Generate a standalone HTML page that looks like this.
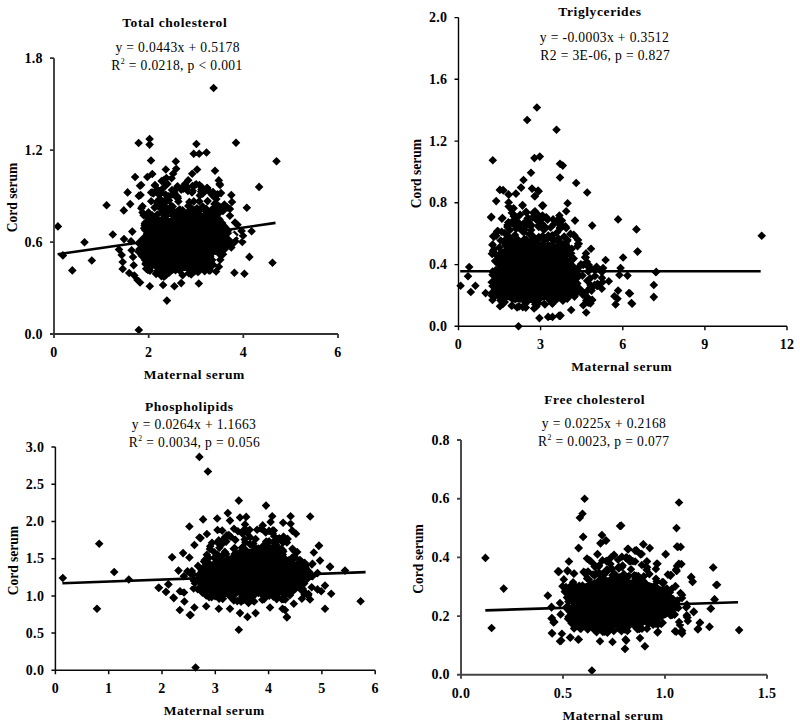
<!DOCTYPE html>
<html><head><meta charset="utf-8"><style>
html,body{margin:0;padding:0;background:#fff;width:800px;height:727px;overflow:hidden}
svg{display:block}
text{font-family:"Liberation Serif", serif;fill:#000}
.tk{font-weight:bold;font-size:14px;letter-spacing:0.3px}
.ti{font-weight:bold;font-size:13.5px;letter-spacing:0.6px}
.eq{font-size:14px;letter-spacing:0.38px}
.yl{font-weight:bold;font-size:13.5px}
.xl{font-weight:bold;font-size:13.5px;letter-spacing:0.55px}
</style></head><body>
<svg width="800" height="727" viewBox="0 0 800 727">
<g id="c1"><polygon points="149.0,220.6 149.0,227.2 145.4,240.2 142.2,246.8 143.0,256.1 143.6,261.2 146.7,264.8 154.8,268.9 161.5,271.8 169.6,271.0 188.7,271.0 198.0,268.2 208.0,266.5 211.0,263.9 211.0,260.6 216.8,250.5 224.1,243.2 230.0,238.7 230.6,236.6 228.6,231.7 220.2,225.4 217.3,215.5 214.2,213.3 209.3,212.1 201.3,212.9 191.3,214.9 181.3,215.9 170.4,218.1 160.4,217.1 152.9,218.6" fill="#000"/><path d="M228.9 235.2l4.3 4.3l-4.3 4.3l-4.3-4.3zM145.9 223.7l4.3 4.3l-4.3 4.3l-4.3-4.3zM145.5 259.7l4.3 4.3l-4.3 4.3l-4.3-4.3zM205.8 205.1l4.3 4.3l-4.3 4.3l-4.3-4.3zM189.3 206.4l4.3 4.3l-4.3 4.3l-4.3-4.3zM227.5 235.6l4.3 4.3l-4.3 4.3l-4.3-4.3zM234.5 230.4l4.3 4.3l-4.3 4.3l-4.3-4.3zM143.8 246.9l4.3 4.3l-4.3 4.3l-4.3-4.3zM145.2 225.8l4.3 4.3l-4.3 4.3l-4.3-4.3zM148.3 219.7l4.3 4.3l-4.3 4.3l-4.3-4.3zM216.1 214.8l4.3 4.3l-4.3 4.3l-4.3-4.3zM148.1 232.1l4.3 4.3l-4.3 4.3l-4.3-4.3zM166.9 265.0l4.3 4.3l-4.3 4.3l-4.3-4.3zM221.9 247.8l4.3 4.3l-4.3 4.3l-4.3-4.3zM145.5 243.6l4.3 4.3l-4.3 4.3l-4.3-4.3zM232.3 236.5l4.3 4.3l-4.3 4.3l-4.3-4.3zM193.9 263.7l4.3 4.3l-4.3 4.3l-4.3-4.3zM154.7 213.1l4.3 4.3l-4.3 4.3l-4.3-4.3zM161.4 215.6l4.3 4.3l-4.3 4.3l-4.3-4.3zM156.1 269.7l4.3 4.3l-4.3 4.3l-4.3-4.3zM224.7 245.0l4.3 4.3l-4.3 4.3l-4.3-4.3zM178.6 209.5l4.3 4.3l-4.3 4.3l-4.3-4.3zM192.4 262.7l4.3 4.3l-4.3 4.3l-4.3-4.3zM181.0 206.4l4.3 4.3l-4.3 4.3l-4.3-4.3zM193.7 211.5l4.3 4.3l-4.3 4.3l-4.3-4.3zM172.7 265.5l4.3 4.3l-4.3 4.3l-4.3-4.3zM138.6 247.4l4.3 4.3l-4.3 4.3l-4.3-4.3zM144.0 241.0l4.3 4.3l-4.3 4.3l-4.3-4.3zM210.1 266.1l4.3 4.3l-4.3 4.3l-4.3-4.3zM210.2 252.2l4.3 4.3l-4.3 4.3l-4.3-4.3zM222.8 242.9l4.3 4.3l-4.3 4.3l-4.3-4.3zM144.5 247.6l4.3 4.3l-4.3 4.3l-4.3-4.3zM144.8 255.5l4.3 4.3l-4.3 4.3l-4.3-4.3zM139.4 244.9l4.3 4.3l-4.3 4.3l-4.3-4.3zM197.9 267.6l4.3 4.3l-4.3 4.3l-4.3-4.3zM156.7 214.2l4.3 4.3l-4.3 4.3l-4.3-4.3zM180.6 265.5l4.3 4.3l-4.3 4.3l-4.3-4.3zM164.1 214.2l4.3 4.3l-4.3 4.3l-4.3-4.3zM234.6 234.3l4.3 4.3l-4.3 4.3l-4.3-4.3zM219.4 219.0l4.3 4.3l-4.3 4.3l-4.3-4.3zM184.0 214.8l4.3 4.3l-4.3 4.3l-4.3-4.3zM149.5 234.4l4.3 4.3l-4.3 4.3l-4.3-4.3zM199.0 266.8l4.3 4.3l-4.3 4.3l-4.3-4.3zM230.9 235.1l4.3 4.3l-4.3 4.3l-4.3-4.3zM208.6 260.3l4.3 4.3l-4.3 4.3l-4.3-4.3zM157.8 266.1l4.3 4.3l-4.3 4.3l-4.3-4.3zM168.5 266.8l4.3 4.3l-4.3 4.3l-4.3-4.3zM144.7 233.5l4.3 4.3l-4.3 4.3l-4.3-4.3zM217.4 206.7l4.3 4.3l-4.3 4.3l-4.3-4.3zM216.4 214.4l4.3 4.3l-4.3 4.3l-4.3-4.3zM150.5 212.7l4.3 4.3l-4.3 4.3l-4.3-4.3zM231.0 237.2l4.3 4.3l-4.3 4.3l-4.3-4.3zM220.8 241.9l4.3 4.3l-4.3 4.3l-4.3-4.3zM157.3 262.6l4.3 4.3l-4.3 4.3l-4.3-4.3zM197.0 204.1l4.3 4.3l-4.3 4.3l-4.3-4.3zM233.4 238.8l4.3 4.3l-4.3 4.3l-4.3-4.3zM205.5 206.8l4.3 4.3l-4.3 4.3l-4.3-4.3zM149.2 233.0l4.3 4.3l-4.3 4.3l-4.3-4.3zM214.4 203.8l4.3 4.3l-4.3 4.3l-4.3-4.3zM161.5 216.2l4.3 4.3l-4.3 4.3l-4.3-4.3zM189.4 213.5l4.3 4.3l-4.3 4.3l-4.3-4.3zM221.6 245.6l4.3 4.3l-4.3 4.3l-4.3-4.3zM222.1 218.7l4.3 4.3l-4.3 4.3l-4.3-4.3zM210.5 259.8l4.3 4.3l-4.3 4.3l-4.3-4.3zM226.7 224.6l4.3 4.3l-4.3 4.3l-4.3-4.3zM168.0 267.7l4.3 4.3l-4.3 4.3l-4.3-4.3zM162.4 209.0l4.3 4.3l-4.3 4.3l-4.3-4.3zM215.4 211.1l4.3 4.3l-4.3 4.3l-4.3-4.3zM204.7 266.9l4.3 4.3l-4.3 4.3l-4.3-4.3zM193.3 212.6l4.3 4.3l-4.3 4.3l-4.3-4.3zM154.9 216.6l4.3 4.3l-4.3 4.3l-4.3-4.3zM206.5 262.2l4.3 4.3l-4.3 4.3l-4.3-4.3zM156.0 213.9l4.3 4.3l-4.3 4.3l-4.3-4.3zM206.9 263.3l4.3 4.3l-4.3 4.3l-4.3-4.3zM162.3 266.9l4.3 4.3l-4.3 4.3l-4.3-4.3zM210.9 257.4l4.3 4.3l-4.3 4.3l-4.3-4.3zM208.7 207.2l4.3 4.3l-4.3 4.3l-4.3-4.3zM159.7 269.3l4.3 4.3l-4.3 4.3l-4.3-4.3zM174.0 209.1l4.3 4.3l-4.3 4.3l-4.3-4.3zM161.5 266.5l4.3 4.3l-4.3 4.3l-4.3-4.3zM217.4 207.6l4.3 4.3l-4.3 4.3l-4.3-4.3zM197.6 206.3l4.3 4.3l-4.3 4.3l-4.3-4.3zM231.0 232.0l4.3 4.3l-4.3 4.3l-4.3-4.3zM175.5 265.9l4.3 4.3l-4.3 4.3l-4.3-4.3zM211.3 205.7l4.3 4.3l-4.3 4.3l-4.3-4.3zM188.8 268.8l4.3 4.3l-4.3 4.3l-4.3-4.3zM196.8 210.3l4.3 4.3l-4.3 4.3l-4.3-4.3zM189.3 211.0l4.3 4.3l-4.3 4.3l-4.3-4.3zM147.9 265.6l4.3 4.3l-4.3 4.3l-4.3-4.3zM214.9 246.6l4.3 4.3l-4.3 4.3l-4.3-4.3zM161.4 271.8l4.3 4.3l-4.3 4.3l-4.3-4.3zM198.8 209.4l4.3 4.3l-4.3 4.3l-4.3-4.3zM190.6 207.3l4.3 4.3l-4.3 4.3l-4.3-4.3zM145.1 250.2l4.3 4.3l-4.3 4.3l-4.3-4.3zM210.9 261.8l4.3 4.3l-4.3 4.3l-4.3-4.3zM217.4 246.5l4.3 4.3l-4.3 4.3l-4.3-4.3zM146.2 264.4l4.3 4.3l-4.3 4.3l-4.3-4.3zM214.0 207.6l4.3 4.3l-4.3 4.3l-4.3-4.3zM144.6 223.7l4.3 4.3l-4.3 4.3l-4.3-4.3zM164.7 212.3l4.3 4.3l-4.3 4.3l-4.3-4.3zM173.1 210.5l4.3 4.3l-4.3 4.3l-4.3-4.3zM227.8 233.3l4.3 4.3l-4.3 4.3l-4.3-4.3zM220.1 242.1l4.3 4.3l-4.3 4.3l-4.3-4.3zM224.5 222.1l4.3 4.3l-4.3 4.3l-4.3-4.3zM138.7 238.8l4.3 4.3l-4.3 4.3l-4.3-4.3zM216.9 206.7l4.3 4.3l-4.3 4.3l-4.3-4.3zM210.1 266.1l4.3 4.3l-4.3 4.3l-4.3-4.3zM144.9 247.2l4.3 4.3l-4.3 4.3l-4.3-4.3zM227.9 231.3l4.3 4.3l-4.3 4.3l-4.3-4.3zM219.1 249.5l4.3 4.3l-4.3 4.3l-4.3-4.3zM178.5 212.5l4.3 4.3l-4.3 4.3l-4.3-4.3zM174.0 214.1l4.3 4.3l-4.3 4.3l-4.3-4.3zM165.7 271.1l4.3 4.3l-4.3 4.3l-4.3-4.3zM142.7 234.8l4.3 4.3l-4.3 4.3l-4.3-4.3zM194.9 266.8l4.3 4.3l-4.3 4.3l-4.3-4.3zM162.5 265.2l4.3 4.3l-4.3 4.3l-4.3-4.3zM227.9 226.5l4.3 4.3l-4.3 4.3l-4.3-4.3zM191.2 270.2l4.3 4.3l-4.3 4.3l-4.3-4.3zM163.9 272.5l4.3 4.3l-4.3 4.3l-4.3-4.3zM152.2 213.3l4.3 4.3l-4.3 4.3l-4.3-4.3zM223.4 238.8l4.3 4.3l-4.3 4.3l-4.3-4.3zM144.7 221.3l4.3 4.3l-4.3 4.3l-4.3-4.3zM208.1 209.0l4.3 4.3l-4.3 4.3l-4.3-4.3zM222.2 223.7l4.3 4.3l-4.3 4.3l-4.3-4.3zM219.1 217.0l4.3 4.3l-4.3 4.3l-4.3-4.3zM152.2 261.3l4.3 4.3l-4.3 4.3l-4.3-4.3zM144.1 223.9l4.3 4.3l-4.3 4.3l-4.3-4.3zM147.0 230.2l4.3 4.3l-4.3 4.3l-4.3-4.3zM182.6 270.9l4.3 4.3l-4.3 4.3l-4.3-4.3zM219.4 248.6l4.3 4.3l-4.3 4.3l-4.3-4.3zM216.4 216.8l4.3 4.3l-4.3 4.3l-4.3-4.3zM162.1 216.4l4.3 4.3l-4.3 4.3l-4.3-4.3zM219.1 208.7l4.3 4.3l-4.3 4.3l-4.3-4.3zM220.1 244.3l4.3 4.3l-4.3 4.3l-4.3-4.3zM145.5 218.2l4.3 4.3l-4.3 4.3l-4.3-4.3zM152.2 211.0l4.3 4.3l-4.3 4.3l-4.3-4.3zM177.1 207.3l4.3 4.3l-4.3 4.3l-4.3-4.3zM228.5 232.5l4.3 4.3l-4.3 4.3l-4.3-4.3zM213.1 260.5l4.3 4.3l-4.3 4.3l-4.3-4.3zM147.1 229.0l4.3 4.3l-4.3 4.3l-4.3-4.3zM219.0 245.6l4.3 4.3l-4.3 4.3l-4.3-4.3zM226.7 241.1l4.3 4.3l-4.3 4.3l-4.3-4.3zM208.0 261.5l4.3 4.3l-4.3 4.3l-4.3-4.3zM156.2 269.3l4.3 4.3l-4.3 4.3l-4.3-4.3zM144.8 219.5l4.3 4.3l-4.3 4.3l-4.3-4.3zM169.4 268.2l4.3 4.3l-4.3 4.3l-4.3-4.3zM150.0 266.4l4.3 4.3l-4.3 4.3l-4.3-4.3zM218.2 244.9l4.3 4.3l-4.3 4.3l-4.3-4.3zM148.7 260.8l4.3 4.3l-4.3 4.3l-4.3-4.3zM165.3 265.9l4.3 4.3l-4.3 4.3l-4.3-4.3zM219.5 215.3l4.3 4.3l-4.3 4.3l-4.3-4.3zM191.2 207.6l4.3 4.3l-4.3 4.3l-4.3-4.3zM150.8 229.6l4.3 4.3l-4.3 4.3l-4.3-4.3zM200.6 204.8l4.3 4.3l-4.3 4.3l-4.3-4.3zM212.2 255.6l4.3 4.3l-4.3 4.3l-4.3-4.3zM193.0 266.5l4.3 4.3l-4.3 4.3l-4.3-4.3zM179.7 266.4l4.3 4.3l-4.3 4.3l-4.3-4.3zM209.0 266.1l4.3 4.3l-4.3 4.3l-4.3-4.3zM195.8 207.1l4.3 4.3l-4.3 4.3l-4.3-4.3zM148.9 233.9l4.3 4.3l-4.3 4.3l-4.3-4.3zM141.7 251.5l4.3 4.3l-4.3 4.3l-4.3-4.3zM203.0 263.7l4.3 4.3l-4.3 4.3l-4.3-4.3zM193.1 266.4l4.3 4.3l-4.3 4.3l-4.3-4.3zM146.3 258.5l4.3 4.3l-4.3 4.3l-4.3-4.3zM195.0 205.4l4.3 4.3l-4.3 4.3l-4.3-4.3zM143.6 210.9l4.3 4.3l-4.3 4.3l-4.3-4.3zM167.2 196.1l4.3 4.3l-4.3 4.3l-4.3-4.3zM181.2 185.3l4.3 4.3l-4.3 4.3l-4.3-4.3zM166.1 211.8l4.3 4.3l-4.3 4.3l-4.3-4.3zM212.2 190.8l4.3 4.3l-4.3 4.3l-4.3-4.3zM181.2 184.1l4.3 4.3l-4.3 4.3l-4.3-4.3zM158.2 201.1l4.3 4.3l-4.3 4.3l-4.3-4.3zM157.3 210.3l4.3 4.3l-4.3 4.3l-4.3-4.3zM202.7 189.3l4.3 4.3l-4.3 4.3l-4.3-4.3zM217.5 209.9l4.3 4.3l-4.3 4.3l-4.3-4.3zM201.6 182.7l4.3 4.3l-4.3 4.3l-4.3-4.3zM160.0 189.1l4.3 4.3l-4.3 4.3l-4.3-4.3zM201.4 185.0l4.3 4.3l-4.3 4.3l-4.3-4.3zM156.4 186.4l4.3 4.3l-4.3 4.3l-4.3-4.3zM197.5 206.9l4.3 4.3l-4.3 4.3l-4.3-4.3zM172.7 202.2l4.3 4.3l-4.3 4.3l-4.3-4.3zM216.2 199.5l4.3 4.3l-4.3 4.3l-4.3-4.3zM160.5 188.8l4.3 4.3l-4.3 4.3l-4.3-4.3zM219.8 202.4l4.3 4.3l-4.3 4.3l-4.3-4.3zM164.5 201.4l4.3 4.3l-4.3 4.3l-4.3-4.3zM148.6 214.1l4.3 4.3l-4.3 4.3l-4.3-4.3zM178.4 197.2l4.3 4.3l-4.3 4.3l-4.3-4.3zM192.0 188.2l4.3 4.3l-4.3 4.3l-4.3-4.3zM162.3 207.4l4.3 4.3l-4.3 4.3l-4.3-4.3zM205.2 186.8l4.3 4.3l-4.3 4.3l-4.3-4.3zM164.7 198.0l4.3 4.3l-4.3 4.3l-4.3-4.3zM156.8 210.9l4.3 4.3l-4.3 4.3l-4.3-4.3zM180.2 205.5l4.3 4.3l-4.3 4.3l-4.3-4.3zM173.7 212.1l4.3 4.3l-4.3 4.3l-4.3-4.3zM183.5 184.4l4.3 4.3l-4.3 4.3l-4.3-4.3zM188.3 201.6l4.3 4.3l-4.3 4.3l-4.3-4.3zM171.6 202.1l4.3 4.3l-4.3 4.3l-4.3-4.3zM207.6 196.8l4.3 4.3l-4.3 4.3l-4.3-4.3zM184.0 209.0l4.3 4.3l-4.3 4.3l-4.3-4.3zM199.2 197.0l4.3 4.3l-4.3 4.3l-4.3-4.3zM207.3 183.8l4.3 4.3l-4.3 4.3l-4.3-4.3zM192.7 186.4l4.3 4.3l-4.3 4.3l-4.3-4.3zM178.4 206.3l4.3 4.3l-4.3 4.3l-4.3-4.3zM207.9 207.0l4.3 4.3l-4.3 4.3l-4.3-4.3zM161.1 195.8l4.3 4.3l-4.3 4.3l-4.3-4.3zM159.8 199.2l4.3 4.3l-4.3 4.3l-4.3-4.3zM191.7 204.1l4.3 4.3l-4.3 4.3l-4.3-4.3zM189.7 210.0l4.3 4.3l-4.3 4.3l-4.3-4.3zM177.9 194.0l4.3 4.3l-4.3 4.3l-4.3-4.3zM163.4 207.2l4.3 4.3l-4.3 4.3l-4.3-4.3zM147.2 211.3l4.3 4.3l-4.3 4.3l-4.3-4.3zM189.4 197.8l4.3 4.3l-4.3 4.3l-4.3-4.3zM208.3 186.5l4.3 4.3l-4.3 4.3l-4.3-4.3zM153.4 189.2l4.3 4.3l-4.3 4.3l-4.3-4.3zM193.8 197.1l4.3 4.3l-4.3 4.3l-4.3-4.3zM163.5 199.5l4.3 4.3l-4.3 4.3l-4.3-4.3zM148.5 208.1l4.3 4.3l-4.3 4.3l-4.3-4.3zM155.6 187.1l4.3 4.3l-4.3 4.3l-4.3-4.3zM154.6 203.3l4.3 4.3l-4.3 4.3l-4.3-4.3zM211.6 206.8l4.3 4.3l-4.3 4.3l-4.3-4.3zM172.0 185.7l4.3 4.3l-4.3 4.3l-4.3-4.3zM182.6 205.9l4.3 4.3l-4.3 4.3l-4.3-4.3zM179.7 205.3l4.3 4.3l-4.3 4.3l-4.3-4.3zM174.4 188.7l4.3 4.3l-4.3 4.3l-4.3-4.3zM205.9 204.9l4.3 4.3l-4.3 4.3l-4.3-4.3zM160.5 187.1l4.3 4.3l-4.3 4.3l-4.3-4.3zM187.9 186.6l4.3 4.3l-4.3 4.3l-4.3-4.3zM180.2 212.2l4.3 4.3l-4.3 4.3l-4.3-4.3zM171.9 190.2l4.3 4.3l-4.3 4.3l-4.3-4.3zM224.4 200.3l4.3 4.3l-4.3 4.3l-4.3-4.3zM196.2 179.9l4.3 4.3l-4.3 4.3l-4.3-4.3zM170.2 203.4l4.3 4.3l-4.3 4.3l-4.3-4.3zM214.5 199.6l4.3 4.3l-4.3 4.3l-4.3-4.3zM216.3 194.8l4.3 4.3l-4.3 4.3l-4.3-4.3zM174.4 208.9l4.3 4.3l-4.3 4.3l-4.3-4.3zM173.4 206.6l4.3 4.3l-4.3 4.3l-4.3-4.3zM159.3 190.6l4.3 4.3l-4.3 4.3l-4.3-4.3zM156.6 198.0l4.3 4.3l-4.3 4.3l-4.3-4.3zM159.2 195.0l4.3 4.3l-4.3 4.3l-4.3-4.3zM167.2 194.2l4.3 4.3l-4.3 4.3l-4.3-4.3zM199.8 191.1l4.3 4.3l-4.3 4.3l-4.3-4.3zM156.5 187.4l4.3 4.3l-4.3 4.3l-4.3-4.3zM174.4 211.9l4.3 4.3l-4.3 4.3l-4.3-4.3zM201.8 187.6l4.3 4.3l-4.3 4.3l-4.3-4.3zM206.1 204.5l4.3 4.3l-4.3 4.3l-4.3-4.3zM168.4 191.9l4.3 4.3l-4.3 4.3l-4.3-4.3zM148.1 210.3l4.3 4.3l-4.3 4.3l-4.3-4.3zM168.6 206.2l4.3 4.3l-4.3 4.3l-4.3-4.3zM174.5 186.5l4.3 4.3l-4.3 4.3l-4.3-4.3zM167.5 193.4l4.3 4.3l-4.3 4.3l-4.3-4.3zM187.2 182.7l4.3 4.3l-4.3 4.3l-4.3-4.3zM201.1 187.3l4.3 4.3l-4.3 4.3l-4.3-4.3zM202.7 202.3l4.3 4.3l-4.3 4.3l-4.3-4.3zM164.8 204.1l4.3 4.3l-4.3 4.3l-4.3-4.3zM175.5 192.0l4.3 4.3l-4.3 4.3l-4.3-4.3zM165.8 190.5l4.3 4.3l-4.3 4.3l-4.3-4.3zM189.1 207.6l4.3 4.3l-4.3 4.3l-4.3-4.3zM159.4 203.2l4.3 4.3l-4.3 4.3l-4.3-4.3zM194.8 181.0l4.3 4.3l-4.3 4.3l-4.3-4.3zM177.4 192.2l4.3 4.3l-4.3 4.3l-4.3-4.3zM168.9 196.1l4.3 4.3l-4.3 4.3l-4.3-4.3z" fill="#000"/><path d="M233.0 232.2l3.8 3.8l-3.8 3.8l-3.8-3.8z" fill="#fff"/><path d="M213.6 83.7l4.3 4.3l-4.3 4.3l-4.3-4.3zM138.6 138.7l4.3 4.3l-4.3 4.3l-4.3-4.3zM149.6 134.7l4.3 4.3l-4.3 4.3l-4.3-4.3zM149.6 140.3l4.3 4.3l-4.3 4.3l-4.3-4.3zM196.4 139.7l4.3 4.3l-4.3 4.3l-4.3-4.3zM236.0 138.4l4.3 4.3l-4.3 4.3l-4.3-4.3zM276.5 156.9l4.3 4.3l-4.3 4.3l-4.3-4.3zM259.1 182.6l4.3 4.3l-4.3 4.3l-4.3-4.3zM206.5 148.2l4.3 4.3l-4.3 4.3l-4.3-4.3zM193.7 149.4l4.3 4.3l-4.3 4.3l-4.3-4.3zM199.2 149.4l4.3 4.3l-4.3 4.3l-4.3-4.3zM151.0 156.2l4.3 4.3l-4.3 4.3l-4.3-4.3zM175.8 157.2l4.3 4.3l-4.3 4.3l-4.3-4.3zM165.8 165.2l4.3 4.3l-4.3 4.3l-4.3-4.3zM176.2 164.5l4.3 4.3l-4.3 4.3l-4.3-4.3zM197.1 165.2l4.3 4.3l-4.3 4.3l-4.3-4.3zM192.2 169.4l4.3 4.3l-4.3 4.3l-4.3-4.3zM215.0 166.5l4.3 4.3l-4.3 4.3l-4.3-4.3zM218.8 176.1l4.3 4.3l-4.3 4.3l-4.3-4.3zM220.0 180.7l4.3 4.3l-4.3 4.3l-4.3-4.3zM188.2 176.0l4.3 4.3l-4.3 4.3l-4.3-4.3zM171.6 174.0l4.3 4.3l-4.3 4.3l-4.3-4.3zM152.3 169.7l4.3 4.3l-4.3 4.3l-4.3-4.3zM147.3 172.7l4.3 4.3l-4.3 4.3l-4.3-4.3zM135.1 172.7l4.3 4.3l-4.3 4.3l-4.3-4.3zM140.0 181.4l4.3 4.3l-4.3 4.3l-4.3-4.3zM127.6 188.1l4.3 4.3l-4.3 4.3l-4.3-4.3zM138.8 191.6l4.3 4.3l-4.3 4.3l-4.3-4.3zM130.2 199.8l4.3 4.3l-4.3 4.3l-4.3-4.3zM123.8 206.1l4.3 4.3l-4.3 4.3l-4.3-4.3zM141.3 203.9l4.3 4.3l-4.3 4.3l-4.3-4.3zM106.6 201.0l4.3 4.3l-4.3 4.3l-4.3-4.3zM112.8 230.2l4.3 4.3l-4.3 4.3l-4.3-4.3zM132.3 227.3l4.3 4.3l-4.3 4.3l-4.3-4.3zM124.0 234.8l4.3 4.3l-4.3 4.3l-4.3-4.3zM119.0 245.2l4.3 4.3l-4.3 4.3l-4.3-4.3zM121.7 250.7l4.3 4.3l-4.3 4.3l-4.3-4.3zM122.7 257.7l4.3 4.3l-4.3 4.3l-4.3-4.3zM122.7 264.6l4.3 4.3l-4.3 4.3l-4.3-4.3zM129.2 268.7l4.3 4.3l-4.3 4.3l-4.3-4.3zM131.0 236.9l4.3 4.3l-4.3 4.3l-4.3-4.3zM131.6 245.9l4.3 4.3l-4.3 4.3l-4.3-4.3zM133.0 252.7l4.3 4.3l-4.3 4.3l-4.3-4.3zM133.7 261.0l4.3 4.3l-4.3 4.3l-4.3-4.3zM57.9 222.1l4.3 4.3l-4.3 4.3l-4.3-4.3zM84.5 237.9l4.3 4.3l-4.3 4.3l-4.3-4.3zM62.9 251.1l4.3 4.3l-4.3 4.3l-4.3-4.3zM91.8 256.2l4.3 4.3l-4.3 4.3l-4.3-4.3zM72.3 266.1l4.3 4.3l-4.3 4.3l-4.3-4.3zM138.8 325.7l4.3 4.3l-4.3 4.3l-4.3-4.3zM166.9 296.3l4.3 4.3l-4.3 4.3l-4.3-4.3zM149.8 281.9l4.3 4.3l-4.3 4.3l-4.3-4.3zM163.1 280.7l4.3 4.3l-4.3 4.3l-4.3-4.3zM174.4 281.9l4.3 4.3l-4.3 4.3l-4.3-4.3zM198.8 279.2l4.3 4.3l-4.3 4.3l-4.3-4.3zM140.0 278.2l4.3 4.3l-4.3 4.3l-4.3-4.3zM181.2 278.8l4.3 4.3l-4.3 4.3l-4.3-4.3zM134.4 271.3l4.3 4.3l-4.3 4.3l-4.3-4.3zM137.5 275.7l4.3 4.3l-4.3 4.3l-4.3-4.3zM249.4 252.6l4.3 4.3l-4.3 4.3l-4.3-4.3zM272.5 258.4l4.3 4.3l-4.3 4.3l-4.3-4.3zM234.4 268.4l4.3 4.3l-4.3 4.3l-4.3-4.3zM244.4 269.4l4.3 4.3l-4.3 4.3l-4.3-4.3zM246.8 203.5l4.3 4.3l-4.3 4.3l-4.3-4.3zM251.6 226.9l4.3 4.3l-4.3 4.3l-4.3-4.3zM219.6 179.8l4.3 4.3l-4.3 4.3l-4.3-4.3zM221.0 188.8l4.3 4.3l-4.3 4.3l-4.3-4.3zM231.3 190.8l4.3 4.3l-4.3 4.3l-4.3-4.3zM232.0 197.7l4.3 4.3l-4.3 4.3l-4.3-4.3zM229.9 204.6l4.3 4.3l-4.3 4.3l-4.3-4.3zM223.0 206.7l4.3 4.3l-4.3 4.3l-4.3-4.3zM229.9 211.5l4.3 4.3l-4.3 4.3l-4.3-4.3zM237.5 220.4l4.3 4.3l-4.3 4.3l-4.3-4.3zM241.6 226.6l4.3 4.3l-4.3 4.3l-4.3-4.3zM243.0 231.4l4.3 4.3l-4.3 4.3l-4.3-4.3zM242.3 237.6l4.3 4.3l-4.3 4.3l-4.3-4.3zM235.4 236.9l4.3 4.3l-4.3 4.3l-4.3-4.3zM231.3 243.1l4.3 4.3l-4.3 4.3l-4.3-4.3zM223.0 250.0l4.3 4.3l-4.3 4.3l-4.3-4.3zM220.3 255.5l4.3 4.3l-4.3 4.3l-4.3-4.3zM218.9 262.4l4.3 4.3l-4.3 4.3l-4.3-4.3zM216.1 267.2l4.3 4.3l-4.3 4.3l-4.3-4.3zM227.5 203.2l4.3 4.3l-4.3 4.3l-4.3-4.3zM235.0 218.2l4.3 4.3l-4.3 4.3l-4.3-4.3zM217.5 190.1l4.3 4.3l-4.3 4.3l-4.3-4.3zM141.2 180.7l4.3 4.3l-4.3 4.3l-4.3-4.3zM155.0 180.7l4.3 4.3l-4.3 4.3l-4.3-4.3zM177.5 181.9l4.3 4.3l-4.3 4.3l-4.3-4.3zM199.4 180.7l4.3 4.3l-4.3 4.3l-4.3-4.3zM140.6 190.7l4.3 4.3l-4.3 4.3l-4.3-4.3zM151.2 188.2l4.3 4.3l-4.3 4.3l-4.3-4.3zM151.2 196.9l4.3 4.3l-4.3 4.3l-4.3-4.3zM142.5 201.9l4.3 4.3l-4.3 4.3l-4.3-4.3zM142.5 208.2l4.3 4.3l-4.3 4.3l-4.3-4.3zM163.8 175.7l4.3 4.3l-4.3 4.3l-4.3-4.3zM173.1 169.4l4.3 4.3l-4.3 4.3l-4.3-4.3zM154.9 181.1l4.3 4.3l-4.3 4.3l-4.3-4.3zM161.6 176.7l4.3 4.3l-4.3 4.3l-4.3-4.3zM166.4 173.8l4.3 4.3l-4.3 4.3l-4.3-4.3zM152.5 188.3l4.3 4.3l-4.3 4.3l-4.3-4.3zM157.8 185.4l4.3 4.3l-4.3 4.3l-4.3-4.3zM163.5 183.5l4.3 4.3l-4.3 4.3l-4.3-4.3zM167.4 179.6l4.3 4.3l-4.3 4.3l-4.3-4.3zM192.5 181.7l4.3 4.3l-4.3 4.3l-4.3-4.3zM185.0 179.7l4.3 4.3l-4.3 4.3l-4.3-4.3zM207.0 183.7l4.3 4.3l-4.3 4.3l-4.3-4.3zM213.0 187.7l4.3 4.3l-4.3 4.3l-4.3-4.3z" fill="#000"/><path d="M54.0 58.2V334.0H338.0" fill="none" stroke="#333" stroke-width="1.8"/><path d="M50.0 334.0H54.0M50.0 242.1H54.0M50.0 150.2H54.0M50.0 58.2H54.0M54.0 334.0v4M148.7 334.0v4M243.3 334.0v4M338.0 334.0v4" fill="none" stroke="#333" stroke-width="1.8"/><text transform="translate(42.8 338.6) scale(1.0 1)" text-anchor="end" class="tk">0.0</text><text transform="translate(42.8 246.7) scale(1.0 1)" text-anchor="end" class="tk">0.6</text><text transform="translate(42.8 154.8) scale(1.0 1)" text-anchor="end" class="tk">1.2</text><text transform="translate(42.8 62.8) scale(1.0 1)" text-anchor="end" class="tk">1.8</text><text transform="translate(54.0 357.0) scale(1.0 1)" text-anchor="middle" class="tk">0</text><text transform="translate(148.7 357.0) scale(1.0 1)" text-anchor="middle" class="tk">2</text><text transform="translate(243.3 357.0) scale(1.0 1)" text-anchor="middle" class="tk">4</text><text transform="translate(338.0 357.0) scale(1.0 1)" text-anchor="middle" class="tk">6</text><line x1="57.6" y1="254.2" x2="275.5" y2="222.9" stroke="#000" stroke-width="2.6"/><text transform="translate(174.7 27.0) scale(1.0 1)" text-anchor="middle" class="ti">Total cholesterol</text><text transform="translate(177.6 51.6) scale(0.97 1)" text-anchor="middle" class="eq">y = 0.0443x + 0.5178</text><text transform="translate(177.0 69.7) scale(0.97 1)" text-anchor="middle" class="eq">R<tspan dy="-5.4" font-size="8">2</tspan><tspan dy="5.4"> = 0.0218, p &lt; 0.001</tspan></text><text transform="translate(16.5 197.5) rotate(-90) scale(1 1.075)" text-anchor="middle" class="yl">Cord serum</text><text transform="translate(194.2 378.6) scale(1.0 1)" text-anchor="middle" class="xl">Maternal serum</text></g>
<g id="c2"><polygon points="498.5,250.8 496.0,275.4 496.0,286.6 494.5,290.7 497.9,294.2 504.2,298.9 513.8,302.1 524.4,303.0 533.7,303.0 543.0,300.2 555.4,298.1 565.6,296.1 570.1,295.5 570.6,294.9 574.4,288.8 575.8,280.4 573.4,270.8 569.5,260.9 566.9,251.7 562.4,247.1 556.6,243.5 549.6,242.1 530.0,244.0 520.4,243.1 512.6,244.7 503.7,248.2" fill="#000"/><path d="M505.2 240.8l4.3 4.3l-4.3 4.3l-4.3-4.3zM571.2 248.9l4.3 4.3l-4.3 4.3l-4.3-4.3zM544.2 299.4l4.3 4.3l-4.3 4.3l-4.3-4.3zM552.1 298.8l4.3 4.3l-4.3 4.3l-4.3-4.3zM554.2 235.6l4.3 4.3l-4.3 4.3l-4.3-4.3zM575.7 288.0l4.3 4.3l-4.3 4.3l-4.3-4.3zM577.9 273.0l4.3 4.3l-4.3 4.3l-4.3-4.3zM512.1 301.2l4.3 4.3l-4.3 4.3l-4.3-4.3zM577.3 279.1l4.3 4.3l-4.3 4.3l-4.3-4.3zM501.3 291.7l4.3 4.3l-4.3 4.3l-4.3-4.3zM492.5 270.5l4.3 4.3l-4.3 4.3l-4.3-4.3zM573.7 254.3l4.3 4.3l-4.3 4.3l-4.3-4.3zM525.6 299.2l4.3 4.3l-4.3 4.3l-4.3-4.3zM577.1 269.1l4.3 4.3l-4.3 4.3l-4.3-4.3zM525.4 239.1l4.3 4.3l-4.3 4.3l-4.3-4.3zM571.8 244.5l4.3 4.3l-4.3 4.3l-4.3-4.3zM552.9 235.9l4.3 4.3l-4.3 4.3l-4.3-4.3zM574.1 265.4l4.3 4.3l-4.3 4.3l-4.3-4.3zM561.3 291.3l4.3 4.3l-4.3 4.3l-4.3-4.3zM544.9 300.2l4.3 4.3l-4.3 4.3l-4.3-4.3zM520.9 240.7l4.3 4.3l-4.3 4.3l-4.3-4.3zM569.0 245.2l4.3 4.3l-4.3 4.3l-4.3-4.3zM513.8 239.2l4.3 4.3l-4.3 4.3l-4.3-4.3zM574.5 292.3l4.3 4.3l-4.3 4.3l-4.3-4.3zM512.9 236.8l4.3 4.3l-4.3 4.3l-4.3-4.3zM493.3 268.1l4.3 4.3l-4.3 4.3l-4.3-4.3zM544.4 235.2l4.3 4.3l-4.3 4.3l-4.3-4.3zM533.5 234.3l4.3 4.3l-4.3 4.3l-4.3-4.3zM567.2 249.0l4.3 4.3l-4.3 4.3l-4.3-4.3zM538.0 242.2l4.3 4.3l-4.3 4.3l-4.3-4.3zM571.5 271.9l4.3 4.3l-4.3 4.3l-4.3-4.3zM513.9 243.6l4.3 4.3l-4.3 4.3l-4.3-4.3zM553.1 291.1l4.3 4.3l-4.3 4.3l-4.3-4.3zM525.9 295.2l4.3 4.3l-4.3 4.3l-4.3-4.3zM536.4 302.1l4.3 4.3l-4.3 4.3l-4.3-4.3zM565.2 239.2l4.3 4.3l-4.3 4.3l-4.3-4.3zM494.2 245.0l4.3 4.3l-4.3 4.3l-4.3-4.3zM535.2 299.9l4.3 4.3l-4.3 4.3l-4.3-4.3zM573.0 261.9l4.3 4.3l-4.3 4.3l-4.3-4.3zM519.1 302.2l4.3 4.3l-4.3 4.3l-4.3-4.3zM576.1 284.6l4.3 4.3l-4.3 4.3l-4.3-4.3zM572.3 289.9l4.3 4.3l-4.3 4.3l-4.3-4.3zM517.5 239.6l4.3 4.3l-4.3 4.3l-4.3-4.3zM538.6 295.5l4.3 4.3l-4.3 4.3l-4.3-4.3zM499.9 249.4l4.3 4.3l-4.3 4.3l-4.3-4.3zM517.0 242.1l4.3 4.3l-4.3 4.3l-4.3-4.3zM564.7 240.3l4.3 4.3l-4.3 4.3l-4.3-4.3zM535.2 237.1l4.3 4.3l-4.3 4.3l-4.3-4.3zM573.5 274.2l4.3 4.3l-4.3 4.3l-4.3-4.3zM492.5 281.7l4.3 4.3l-4.3 4.3l-4.3-4.3zM546.9 233.6l4.3 4.3l-4.3 4.3l-4.3-4.3zM574.1 274.4l4.3 4.3l-4.3 4.3l-4.3-4.3zM552.4 299.4l4.3 4.3l-4.3 4.3l-4.3-4.3zM525.9 298.4l4.3 4.3l-4.3 4.3l-4.3-4.3zM512.5 294.8l4.3 4.3l-4.3 4.3l-4.3-4.3zM522.8 302.8l4.3 4.3l-4.3 4.3l-4.3-4.3zM526.9 241.4l4.3 4.3l-4.3 4.3l-4.3-4.3zM556.9 235.4l4.3 4.3l-4.3 4.3l-4.3-4.3zM560.7 241.3l4.3 4.3l-4.3 4.3l-4.3-4.3zM509.8 241.5l4.3 4.3l-4.3 4.3l-4.3-4.3zM502.7 300.0l4.3 4.3l-4.3 4.3l-4.3-4.3zM497.3 258.9l4.3 4.3l-4.3 4.3l-4.3-4.3zM495.8 268.3l4.3 4.3l-4.3 4.3l-4.3-4.3zM504.8 294.1l4.3 4.3l-4.3 4.3l-4.3-4.3zM494.5 291.8l4.3 4.3l-4.3 4.3l-4.3-4.3zM538.6 298.8l4.3 4.3l-4.3 4.3l-4.3-4.3zM526.1 235.2l4.3 4.3l-4.3 4.3l-4.3-4.3zM501.7 297.5l4.3 4.3l-4.3 4.3l-4.3-4.3zM574.6 269.0l4.3 4.3l-4.3 4.3l-4.3-4.3zM572.6 281.9l4.3 4.3l-4.3 4.3l-4.3-4.3zM494.8 276.8l4.3 4.3l-4.3 4.3l-4.3-4.3zM568.0 260.2l4.3 4.3l-4.3 4.3l-4.3-4.3zM562.2 244.4l4.3 4.3l-4.3 4.3l-4.3-4.3zM491.8 291.1l4.3 4.3l-4.3 4.3l-4.3-4.3zM495.6 266.0l4.3 4.3l-4.3 4.3l-4.3-4.3zM524.5 237.5l4.3 4.3l-4.3 4.3l-4.3-4.3zM572.0 252.4l4.3 4.3l-4.3 4.3l-4.3-4.3zM572.0 285.3l4.3 4.3l-4.3 4.3l-4.3-4.3zM570.7 266.7l4.3 4.3l-4.3 4.3l-4.3-4.3zM565.6 240.6l4.3 4.3l-4.3 4.3l-4.3-4.3zM520.7 240.2l4.3 4.3l-4.3 4.3l-4.3-4.3zM571.2 266.9l4.3 4.3l-4.3 4.3l-4.3-4.3zM499.4 253.4l4.3 4.3l-4.3 4.3l-4.3-4.3zM513.7 237.2l4.3 4.3l-4.3 4.3l-4.3-4.3zM507.8 243.4l4.3 4.3l-4.3 4.3l-4.3-4.3zM511.6 301.4l4.3 4.3l-4.3 4.3l-4.3-4.3zM492.6 267.2l4.3 4.3l-4.3 4.3l-4.3-4.3zM542.7 240.2l4.3 4.3l-4.3 4.3l-4.3-4.3zM536.5 242.0l4.3 4.3l-4.3 4.3l-4.3-4.3zM518.0 235.4l4.3 4.3l-4.3 4.3l-4.3-4.3zM509.8 241.3l4.3 4.3l-4.3 4.3l-4.3-4.3zM542.2 233.9l4.3 4.3l-4.3 4.3l-4.3-4.3zM523.2 239.6l4.3 4.3l-4.3 4.3l-4.3-4.3zM534.6 295.1l4.3 4.3l-4.3 4.3l-4.3-4.3zM559.8 238.9l4.3 4.3l-4.3 4.3l-4.3-4.3zM567.4 294.3l4.3 4.3l-4.3 4.3l-4.3-4.3zM522.0 240.9l4.3 4.3l-4.3 4.3l-4.3-4.3zM494.7 285.5l4.3 4.3l-4.3 4.3l-4.3-4.3zM534.1 304.2l4.3 4.3l-4.3 4.3l-4.3-4.3zM528.3 238.6l4.3 4.3l-4.3 4.3l-4.3-4.3zM560.9 238.4l4.3 4.3l-4.3 4.3l-4.3-4.3zM575.6 290.0l4.3 4.3l-4.3 4.3l-4.3-4.3zM572.5 284.7l4.3 4.3l-4.3 4.3l-4.3-4.3zM577.3 283.1l4.3 4.3l-4.3 4.3l-4.3-4.3zM559.0 234.7l4.3 4.3l-4.3 4.3l-4.3-4.3zM536.9 235.6l4.3 4.3l-4.3 4.3l-4.3-4.3zM500.2 288.7l4.3 4.3l-4.3 4.3l-4.3-4.3zM519.0 301.9l4.3 4.3l-4.3 4.3l-4.3-4.3zM557.1 294.6l4.3 4.3l-4.3 4.3l-4.3-4.3zM574.4 280.2l4.3 4.3l-4.3 4.3l-4.3-4.3zM500.1 261.3l4.3 4.3l-4.3 4.3l-4.3-4.3zM537.6 238.8l4.3 4.3l-4.3 4.3l-4.3-4.3zM498.3 269.9l4.3 4.3l-4.3 4.3l-4.3-4.3zM509.6 238.8l4.3 4.3l-4.3 4.3l-4.3-4.3zM571.9 262.4l4.3 4.3l-4.3 4.3l-4.3-4.3zM572.0 277.7l4.3 4.3l-4.3 4.3l-4.3-4.3zM497.4 273.1l4.3 4.3l-4.3 4.3l-4.3-4.3zM578.9 283.8l4.3 4.3l-4.3 4.3l-4.3-4.3zM553.6 298.0l4.3 4.3l-4.3 4.3l-4.3-4.3zM532.8 235.4l4.3 4.3l-4.3 4.3l-4.3-4.3zM562.9 296.5l4.3 4.3l-4.3 4.3l-4.3-4.3zM533.1 240.7l4.3 4.3l-4.3 4.3l-4.3-4.3zM565.9 239.6l4.3 4.3l-4.3 4.3l-4.3-4.3zM496.3 281.8l4.3 4.3l-4.3 4.3l-4.3-4.3zM525.8 303.3l4.3 4.3l-4.3 4.3l-4.3-4.3zM546.3 292.2l4.3 4.3l-4.3 4.3l-4.3-4.3zM566.5 294.0l4.3 4.3l-4.3 4.3l-4.3-4.3zM536.2 296.7l4.3 4.3l-4.3 4.3l-4.3-4.3zM570.6 266.6l4.3 4.3l-4.3 4.3l-4.3-4.3zM572.8 287.2l4.3 4.3l-4.3 4.3l-4.3-4.3zM491.7 277.9l4.3 4.3l-4.3 4.3l-4.3-4.3zM496.4 251.0l4.3 4.3l-4.3 4.3l-4.3-4.3zM569.2 257.3l4.3 4.3l-4.3 4.3l-4.3-4.3zM535.3 294.8l4.3 4.3l-4.3 4.3l-4.3-4.3zM566.8 244.9l4.3 4.3l-4.3 4.3l-4.3-4.3zM571.8 270.4l4.3 4.3l-4.3 4.3l-4.3-4.3zM550.4 296.6l4.3 4.3l-4.3 4.3l-4.3-4.3zM571.6 270.3l4.3 4.3l-4.3 4.3l-4.3-4.3zM574.7 286.8l4.3 4.3l-4.3 4.3l-4.3-4.3zM522.7 240.6l4.3 4.3l-4.3 4.3l-4.3-4.3zM568.3 243.3l4.3 4.3l-4.3 4.3l-4.3-4.3zM497.2 287.9l4.3 4.3l-4.3 4.3l-4.3-4.3zM494.3 278.4l4.3 4.3l-4.3 4.3l-4.3-4.3zM568.2 292.9l4.3 4.3l-4.3 4.3l-4.3-4.3zM504.7 297.8l4.3 4.3l-4.3 4.3l-4.3-4.3zM561.5 243.4l4.3 4.3l-4.3 4.3l-4.3-4.3zM570.2 286.3l4.3 4.3l-4.3 4.3l-4.3-4.3zM500.4 296.0l4.3 4.3l-4.3 4.3l-4.3-4.3zM515.2 294.9l4.3 4.3l-4.3 4.3l-4.3-4.3zM492.3 288.2l4.3 4.3l-4.3 4.3l-4.3-4.3zM500.1 293.8l4.3 4.3l-4.3 4.3l-4.3-4.3zM517.1 303.1l4.3 4.3l-4.3 4.3l-4.3-4.3zM563.4 242.1l4.3 4.3l-4.3 4.3l-4.3-4.3zM493.0 246.6l4.3 4.3l-4.3 4.3l-4.3-4.3zM577.8 264.1l4.3 4.3l-4.3 4.3l-4.3-4.3zM578.1 287.3l4.3 4.3l-4.3 4.3l-4.3-4.3zM499.1 272.7l4.3 4.3l-4.3 4.3l-4.3-4.3zM495.4 272.3l4.3 4.3l-4.3 4.3l-4.3-4.3zM502.8 289.9l4.3 4.3l-4.3 4.3l-4.3-4.3zM523.0 240.3l4.3 4.3l-4.3 4.3l-4.3-4.3zM495.1 256.8l4.3 4.3l-4.3 4.3l-4.3-4.3zM545.7 223.8l4.3 4.3l-4.3 4.3l-4.3-4.3zM554.2 219.4l4.3 4.3l-4.3 4.3l-4.3-4.3zM528.3 217.6l4.3 4.3l-4.3 4.3l-4.3-4.3zM539.7 215.0l4.3 4.3l-4.3 4.3l-4.3-4.3zM526.0 221.7l4.3 4.3l-4.3 4.3l-4.3-4.3zM517.7 213.0l4.3 4.3l-4.3 4.3l-4.3-4.3zM552.2 231.1l4.3 4.3l-4.3 4.3l-4.3-4.3zM496.3 231.4l4.3 4.3l-4.3 4.3l-4.3-4.3zM565.5 222.1l4.3 4.3l-4.3 4.3l-4.3-4.3zM542.6 231.7l4.3 4.3l-4.3 4.3l-4.3-4.3zM524.1 235.1l4.3 4.3l-4.3 4.3l-4.3-4.3zM545.2 224.2l4.3 4.3l-4.3 4.3l-4.3-4.3zM530.7 221.9l4.3 4.3l-4.3 4.3l-4.3-4.3zM497.8 226.8l4.3 4.3l-4.3 4.3l-4.3-4.3zM560.8 221.2l4.3 4.3l-4.3 4.3l-4.3-4.3zM501.7 227.4l4.3 4.3l-4.3 4.3l-4.3-4.3zM547.5 215.4l4.3 4.3l-4.3 4.3l-4.3-4.3zM560.1 224.4l4.3 4.3l-4.3 4.3l-4.3-4.3zM557.9 215.5l4.3 4.3l-4.3 4.3l-4.3-4.3zM524.0 227.9l4.3 4.3l-4.3 4.3l-4.3-4.3zM548.5 233.3l4.3 4.3l-4.3 4.3l-4.3-4.3zM570.5 229.6l4.3 4.3l-4.3 4.3l-4.3-4.3zM548.3 231.3l4.3 4.3l-4.3 4.3l-4.3-4.3zM520.1 210.4l4.3 4.3l-4.3 4.3l-4.3-4.3zM541.4 214.3l4.3 4.3l-4.3 4.3l-4.3-4.3zM536.3 215.4l4.3 4.3l-4.3 4.3l-4.3-4.3zM539.7 234.2l4.3 4.3l-4.3 4.3l-4.3-4.3zM546.4 212.9l4.3 4.3l-4.3 4.3l-4.3-4.3zM538.8 232.7l4.3 4.3l-4.3 4.3l-4.3-4.3zM545.5 235.0l4.3 4.3l-4.3 4.3l-4.3-4.3zM560.2 219.8l4.3 4.3l-4.3 4.3l-4.3-4.3zM504.9 228.7l4.3 4.3l-4.3 4.3l-4.3-4.3zM533.5 232.4l4.3 4.3l-4.3 4.3l-4.3-4.3zM530.6 229.5l4.3 4.3l-4.3 4.3l-4.3-4.3zM506.5 230.6l4.3 4.3l-4.3 4.3l-4.3-4.3zM564.2 232.2l4.3 4.3l-4.3 4.3l-4.3-4.3zM557.0 228.2l4.3 4.3l-4.3 4.3l-4.3-4.3zM508.7 218.3l4.3 4.3l-4.3 4.3l-4.3-4.3zM517.4 217.2l4.3 4.3l-4.3 4.3l-4.3-4.3zM541.8 219.2l4.3 4.3l-4.3 4.3l-4.3-4.3zM547.7 234.5l4.3 4.3l-4.3 4.3l-4.3-4.3zM543.8 225.5l4.3 4.3l-4.3 4.3l-4.3-4.3zM529.6 230.0l4.3 4.3l-4.3 4.3l-4.3-4.3zM545.9 213.3l4.3 4.3l-4.3 4.3l-4.3-4.3zM588.6 263.0l4.3 4.3l-4.3 4.3l-4.3-4.3zM602.0 273.6l4.3 4.3l-4.3 4.3l-4.3-4.3zM597.0 281.7l4.3 4.3l-4.3 4.3l-4.3-4.3zM583.3 301.0l4.3 4.3l-4.3 4.3l-4.3-4.3zM586.0 249.1l4.3 4.3l-4.3 4.3l-4.3-4.3zM590.4 299.2l4.3 4.3l-4.3 4.3l-4.3-4.3zM589.3 265.9l4.3 4.3l-4.3 4.3l-4.3-4.3zM586.8 257.5l4.3 4.3l-4.3 4.3l-4.3-4.3zM585.1 252.9l4.3 4.3l-4.3 4.3l-4.3-4.3zM588.3 298.4l4.3 4.3l-4.3 4.3l-4.3-4.3zM586.3 296.1l4.3 4.3l-4.3 4.3l-4.3-4.3zM590.5 280.8l4.3 4.3l-4.3 4.3l-4.3-4.3zM589.9 265.4l4.3 4.3l-4.3 4.3l-4.3-4.3zM602.4 277.9l4.3 4.3l-4.3 4.3l-4.3-4.3zM580.9 260.0l4.3 4.3l-4.3 4.3l-4.3-4.3zM587.2 276.4l4.3 4.3l-4.3 4.3l-4.3-4.3zM586.7 257.4l4.3 4.3l-4.3 4.3l-4.3-4.3zM591.6 286.3l4.3 4.3l-4.3 4.3l-4.3-4.3zM590.1 274.1l4.3 4.3l-4.3 4.3l-4.3-4.3zM594.6 280.6l4.3 4.3l-4.3 4.3l-4.3-4.3zM581.0 285.7l4.3 4.3l-4.3 4.3l-4.3-4.3zM588.0 293.4l4.3 4.3l-4.3 4.3l-4.3-4.3zM592.3 295.6l4.3 4.3l-4.3 4.3l-4.3-4.3zM588.2 267.1l4.3 4.3l-4.3 4.3l-4.3-4.3zM588.3 295.6l4.3 4.3l-4.3 4.3l-4.3-4.3zM597.6 281.3l4.3 4.3l-4.3 4.3l-4.3-4.3zM585.5 252.9l4.3 4.3l-4.3 4.3l-4.3-4.3zM582.5 271.3l4.3 4.3l-4.3 4.3l-4.3-4.3zM590.6 283.5l4.3 4.3l-4.3 4.3l-4.3-4.3zM601.8 284.5l4.3 4.3l-4.3 4.3l-4.3-4.3zM601.9 267.8l4.3 4.3l-4.3 4.3l-4.3-4.3zM579.6 285.4l4.3 4.3l-4.3 4.3l-4.3-4.3zM594.0 265.1l4.3 4.3l-4.3 4.3l-4.3-4.3zM589.8 263.3l4.3 4.3l-4.3 4.3l-4.3-4.3zM586.4 287.5l4.3 4.3l-4.3 4.3l-4.3-4.3zM583.2 260.7l4.3 4.3l-4.3 4.3l-4.3-4.3zM596.6 262.5l4.3 4.3l-4.3 4.3l-4.3-4.3z" fill="#000"/><path d="M536.9 103.2l4.3 4.3l-4.3 4.3l-4.3-4.3zM527.2 115.7l4.3 4.3l-4.3 4.3l-4.3-4.3zM556.5 125.5l4.3 4.3l-4.3 4.3l-4.3-4.3zM492.8 155.9l4.3 4.3l-4.3 4.3l-4.3-4.3zM534.4 153.8l4.3 4.3l-4.3 4.3l-4.3-4.3zM539.8 152.3l4.3 4.3l-4.3 4.3l-4.3-4.3zM560.0 159.4l4.3 4.3l-4.3 4.3l-4.3-4.3zM562.8 161.3l4.3 4.3l-4.3 4.3l-4.3-4.3zM531.0 168.4l4.3 4.3l-4.3 4.3l-4.3-4.3zM560.0 173.2l4.3 4.3l-4.3 4.3l-4.3-4.3zM523.5 175.7l4.3 4.3l-4.3 4.3l-4.3-4.3zM576.2 178.7l4.3 4.3l-4.3 4.3l-4.3-4.3zM500.0 185.4l4.3 4.3l-4.3 4.3l-4.3-4.3zM503.1 185.7l4.3 4.3l-4.3 4.3l-4.3-4.3zM521.0 183.2l4.3 4.3l-4.3 4.3l-4.3-4.3zM532.2 184.4l4.3 4.3l-4.3 4.3l-4.3-4.3zM538.1 186.3l4.3 4.3l-4.3 4.3l-4.3-4.3zM535.0 191.9l4.3 4.3l-4.3 4.3l-4.3-4.3zM516.0 189.4l4.3 4.3l-4.3 4.3l-4.3-4.3zM508.5 190.1l4.3 4.3l-4.3 4.3l-4.3-4.3zM496.2 196.7l4.3 4.3l-4.3 4.3l-4.3-4.3zM508.5 198.2l4.3 4.3l-4.3 4.3l-4.3-4.3zM522.5 201.3l4.3 4.3l-4.3 4.3l-4.3-4.3zM543.1 201.3l4.3 4.3l-4.3 4.3l-4.3-4.3zM567.6 199.0l4.3 4.3l-4.3 4.3l-4.3-4.3zM566.2 206.9l4.3 4.3l-4.3 4.3l-4.3-4.3zM491.2 212.9l4.3 4.3l-4.3 4.3l-4.3-4.3zM502.5 213.8l4.3 4.3l-4.3 4.3l-4.3-4.3zM511.9 205.7l4.3 4.3l-4.3 4.3l-4.3-4.3zM513.8 211.9l4.3 4.3l-4.3 4.3l-4.3-4.3zM526.2 208.2l4.3 4.3l-4.3 4.3l-4.3-4.3zM535.0 206.9l4.3 4.3l-4.3 4.3l-4.3-4.3zM542.5 211.3l4.3 4.3l-4.3 4.3l-4.3-4.3zM553.1 215.1l4.3 4.3l-4.3 4.3l-4.3-4.3zM559.4 211.3l4.3 4.3l-4.3 4.3l-4.3-4.3zM561.9 216.3l4.3 4.3l-4.3 4.3l-4.3-4.3zM575.0 216.3l4.3 4.3l-4.3 4.3l-4.3-4.3zM527.5 214.4l4.3 4.3l-4.3 4.3l-4.3-4.3zM532.5 213.2l4.3 4.3l-4.3 4.3l-4.3-4.3zM507.5 220.7l4.3 4.3l-4.3 4.3l-4.3-4.3zM540.0 221.9l4.3 4.3l-4.3 4.3l-4.3-4.3zM545.0 222.6l4.3 4.3l-4.3 4.3l-4.3-4.3zM550.6 223.2l4.3 4.3l-4.3 4.3l-4.3-4.3zM560.0 223.8l4.3 4.3l-4.3 4.3l-4.3-4.3zM566.2 223.8l4.3 4.3l-4.3 4.3l-4.3-4.3zM497.5 226.9l4.3 4.3l-4.3 4.3l-4.3-4.3zM493.1 231.9l4.3 4.3l-4.3 4.3l-4.3-4.3zM573.8 230.7l4.3 4.3l-4.3 4.3l-4.3-4.3zM567.5 235.7l4.3 4.3l-4.3 4.3l-4.3-4.3zM492.5 240.7l4.3 4.3l-4.3 4.3l-4.3-4.3zM492.5 249.4l4.3 4.3l-4.3 4.3l-4.3-4.3zM587.2 188.2l4.3 4.3l-4.3 4.3l-4.3-4.3zM592.2 221.3l4.3 4.3l-4.3 4.3l-4.3-4.3zM618.1 215.1l4.3 4.3l-4.3 4.3l-4.3-4.3zM636.5 225.1l4.3 4.3l-4.3 4.3l-4.3-4.3zM573.8 230.4l4.3 4.3l-4.3 4.3l-4.3-4.3zM578.1 235.7l4.3 4.3l-4.3 4.3l-4.3-4.3zM578.8 239.4l4.3 4.3l-4.3 4.3l-4.3-4.3zM566.9 236.9l4.3 4.3l-4.3 4.3l-4.3-4.3zM591.0 244.4l4.3 4.3l-4.3 4.3l-4.3-4.3zM585.6 253.2l4.3 4.3l-4.3 4.3l-4.3-4.3zM605.6 255.7l4.3 4.3l-4.3 4.3l-4.3-4.3zM623.1 253.2l4.3 4.3l-4.3 4.3l-4.3-4.3zM637.8 247.2l4.3 4.3l-4.3 4.3l-4.3-4.3zM518.5 321.9l4.3 4.3l-4.3 4.3l-4.3-4.3zM539.4 313.8l4.3 4.3l-4.3 4.3l-4.3-4.3zM548.1 312.6l4.3 4.3l-4.3 4.3l-4.3-4.3zM552.5 312.6l4.3 4.3l-4.3 4.3l-4.3-4.3zM559.1 311.3l4.3 4.3l-4.3 4.3l-4.3-4.3zM571.2 305.7l4.3 4.3l-4.3 4.3l-4.3-4.3zM485.6 288.8l4.3 4.3l-4.3 4.3l-4.3-4.3zM492.5 295.7l4.3 4.3l-4.3 4.3l-4.3-4.3zM500.0 301.9l4.3 4.3l-4.3 4.3l-4.3-4.3zM588.8 260.7l4.3 4.3l-4.3 4.3l-4.3-4.3zM596.2 265.1l4.3 4.3l-4.3 4.3l-4.3-4.3zM603.1 263.8l4.3 4.3l-4.3 4.3l-4.3-4.3zM620.6 263.8l4.3 4.3l-4.3 4.3l-4.3-4.3zM619.4 270.7l4.3 4.3l-4.3 4.3l-4.3-4.3zM627.5 271.3l4.3 4.3l-4.3 4.3l-4.3-4.3zM656.2 267.6l4.3 4.3l-4.3 4.3l-4.3-4.3zM608.8 276.9l4.3 4.3l-4.3 4.3l-4.3-4.3zM597.5 279.4l4.3 4.3l-4.3 4.3l-4.3-4.3zM653.8 280.7l4.3 4.3l-4.3 4.3l-4.3-4.3zM618.1 286.3l4.3 4.3l-4.3 4.3l-4.3-4.3zM629.0 288.8l4.3 4.3l-4.3 4.3l-4.3-4.3zM614.4 291.9l4.3 4.3l-4.3 4.3l-4.3-4.3zM617.5 294.4l4.3 4.3l-4.3 4.3l-4.3-4.3zM653.8 292.6l4.3 4.3l-4.3 4.3l-4.3-4.3zM631.5 298.8l4.3 4.3l-4.3 4.3l-4.3-4.3zM615.6 300.1l4.3 4.3l-4.3 4.3l-4.3-4.3zM591.2 296.3l4.3 4.3l-4.3 4.3l-4.3-4.3zM586.2 308.2l4.3 4.3l-4.3 4.3l-4.3-4.3zM560.6 311.3l4.3 4.3l-4.3 4.3l-4.3-4.3zM577.5 241.9l4.3 4.3l-4.3 4.3l-4.3-4.3zM469.2 262.7l4.3 4.3l-4.3 4.3l-4.3-4.3zM468.0 271.9l4.3 4.3l-4.3 4.3l-4.3-4.3zM460.6 281.5l4.3 4.3l-4.3 4.3l-4.3-4.3zM475.4 281.5l4.3 4.3l-4.3 4.3l-4.3-4.3zM470.8 287.7l4.3 4.3l-4.3 4.3l-4.3-4.3zM636.4 225.0l4.3 4.3l-4.3 4.3l-4.3-4.3zM637.4 247.3l4.3 4.3l-4.3 4.3l-4.3-4.3zM761.7 231.4l4.3 4.3l-4.3 4.3l-4.3-4.3zM655.9 267.9l4.3 4.3l-4.3 4.3l-4.3-4.3zM653.8 280.7l4.3 4.3l-4.3 4.3l-4.3-4.3zM653.8 292.8l4.3 4.3l-4.3 4.3l-4.3-4.3zM632.1 299.4l4.3 4.3l-4.3 4.3l-4.3-4.3zM630.0 289.2l4.3 4.3l-4.3 4.3l-4.3-4.3zM491.2 213.2l4.3 4.3l-4.3 4.3l-4.3-4.3zM501.9 214.4l4.3 4.3l-4.3 4.3l-4.3-4.3zM513.8 215.7l4.3 4.3l-4.3 4.3l-4.3-4.3zM528.8 214.4l4.3 4.3l-4.3 4.3l-4.3-4.3zM538.8 222.6l4.3 4.3l-4.3 4.3l-4.3-4.3zM553.1 215.1l4.3 4.3l-4.3 4.3l-4.3-4.3zM561.2 215.7l4.3 4.3l-4.3 4.3l-4.3-4.3zM560.0 223.2l4.3 4.3l-4.3 4.3l-4.3-4.3zM497.5 227.6l4.3 4.3l-4.3 4.3l-4.3-4.3zM493.8 232.6l4.3 4.3l-4.3 4.3l-4.3-4.3zM516.2 224.4l4.3 4.3l-4.3 4.3l-4.3-4.3zM522.5 226.9l4.3 4.3l-4.3 4.3l-4.3-4.3zM531.2 225.7l4.3 4.3l-4.3 4.3l-4.3-4.3zM574.4 231.3l4.3 4.3l-4.3 4.3l-4.3-4.3zM578.1 239.4l4.3 4.3l-4.3 4.3l-4.3-4.3zM492.5 240.7l4.3 4.3l-4.3 4.3l-4.3-4.3zM491.9 249.4l4.3 4.3l-4.3 4.3l-4.3-4.3zM503.8 236.9l4.3 4.3l-4.3 4.3l-4.3-4.3zM510.0 239.4l4.3 4.3l-4.3 4.3l-4.3-4.3zM510.0 225.7l4.3 4.3l-4.3 4.3l-4.3-4.3zM515.0 230.7l4.3 4.3l-4.3 4.3l-4.3-4.3zM520.0 220.7l4.3 4.3l-4.3 4.3l-4.3-4.3zM525.0 217.7l4.3 4.3l-4.3 4.3l-4.3-4.3zM508.0 231.7l4.3 4.3l-4.3 4.3l-4.3-4.3zM518.0 237.7l4.3 4.3l-4.3 4.3l-4.3-4.3zM526.0 235.7l4.3 4.3l-4.3 4.3l-4.3-4.3zM595.0 271.7l4.3 4.3l-4.3 4.3l-4.3-4.3zM590.0 283.7l4.3 4.3l-4.3 4.3l-4.3-4.3zM583.0 290.7l4.3 4.3l-4.3 4.3l-4.3-4.3zM499.8 185.6l4.3 4.3l-4.3 4.3l-4.3-4.3zM503.3 186.1l4.3 4.3l-4.3 4.3l-4.3-4.3zM508.7 190.5l4.3 4.3l-4.3 4.3l-4.3-4.3zM515.9 189.2l4.3 4.3l-4.3 4.3l-4.3-4.3zM521.2 183.4l4.3 4.3l-4.3 4.3l-4.3-4.3zM532.0 184.3l4.3 4.3l-4.3 4.3l-4.3-4.3zM538.7 187.0l4.3 4.3l-4.3 4.3l-4.3-4.3zM534.6 191.9l4.3 4.3l-4.3 4.3l-4.3-4.3zM496.2 196.8l4.3 4.3l-4.3 4.3l-4.3-4.3zM508.7 198.1l4.3 4.3l-4.3 4.3l-4.3-4.3zM508.7 202.2l4.3 4.3l-4.3 4.3l-4.3-4.3zM513.6 204.0l4.3 4.3l-4.3 4.3l-4.3-4.3zM522.6 200.8l4.3 4.3l-4.3 4.3l-4.3-4.3zM542.2 201.3l4.3 4.3l-4.3 4.3l-4.3-4.3zM511.8 208.4l4.3 4.3l-4.3 4.3l-4.3-4.3zM515.4 212.0l4.3 4.3l-4.3 4.3l-4.3-4.3zM491.3 212.5l4.3 4.3l-4.3 4.3l-4.3-4.3zM502.4 213.8l4.3 4.3l-4.3 4.3l-4.3-4.3zM526.1 207.5l4.3 4.3l-4.3 4.3l-4.3-4.3zM533.3 208.4l4.3 4.3l-4.3 4.3l-4.3-4.3zM538.7 211.1l4.3 4.3l-4.3 4.3l-4.3-4.3zM527.9 213.8l4.3 4.3l-4.3 4.3l-4.3-4.3zM508.3 218.3l4.3 4.3l-4.3 4.3l-4.3-4.3zM513.6 220.1l4.3 4.3l-4.3 4.3l-4.3-4.3zM519.0 223.6l4.3 4.3l-4.3 4.3l-4.3-4.3zM524.4 225.4l4.3 4.3l-4.3 4.3l-4.3-4.3zM531.5 220.9l4.3 4.3l-4.3 4.3l-4.3-4.3zM538.7 220.9l4.3 4.3l-4.3 4.3l-4.3-4.3zM507.4 222.7l4.3 4.3l-4.3 4.3l-4.3-4.3zM497.1 227.2l4.3 4.3l-4.3 4.3l-4.3-4.3zM493.9 232.1l4.3 4.3l-4.3 4.3l-4.3-4.3zM492.6 240.2l4.3 4.3l-4.3 4.3l-4.3-4.3zM500.7 236.2l4.3 4.3l-4.3 4.3l-4.3-4.3zM506.5 234.4l4.3 4.3l-4.3 4.3l-4.3-4.3zM511.8 236.2l4.3 4.3l-4.3 4.3l-4.3-4.3zM499.3 243.3l4.3 4.3l-4.3 4.3l-4.3-4.3z" fill="#000"/><path d="M458.5 17.6V326.3H787.0" fill="none" stroke="#000" stroke-width="1.4"/><path d="M454.5 326.3H458.5M454.5 264.6H458.5M454.5 202.8H458.5M454.5 141.1H458.5M454.5 79.3H458.5M454.5 17.6H458.5M458.5 326.3v4M540.6 326.3v4M622.8 326.3v4M704.9 326.3v4M787.0 326.3v4" fill="none" stroke="#000" stroke-width="1.4"/><text transform="translate(447.3 330.9) scale(1.0 1)" text-anchor="end" class="tk">0.0</text><text transform="translate(447.3 269.2) scale(1.0 1)" text-anchor="end" class="tk">0.4</text><text transform="translate(447.3 207.4) scale(1.0 1)" text-anchor="end" class="tk">0.8</text><text transform="translate(447.3 145.7) scale(1.0 1)" text-anchor="end" class="tk">1.2</text><text transform="translate(447.3 83.9) scale(1.0 1)" text-anchor="end" class="tk">1.6</text><text transform="translate(447.3 22.2) scale(1.0 1)" text-anchor="end" class="tk">2.0</text><text transform="translate(458.5 349.3) scale(1.0 1)" text-anchor="middle" class="tk">0</text><text transform="translate(540.6 349.3) scale(1.0 1)" text-anchor="middle" class="tk">3</text><text transform="translate(622.8 349.3) scale(1.0 1)" text-anchor="middle" class="tk">6</text><text transform="translate(704.9 349.3) scale(1.0 1)" text-anchor="middle" class="tk">9</text><text transform="translate(787.0 349.3) scale(1.0 1)" text-anchor="middle" class="tk">12</text><line x1="460.2" y1="271.3" x2="760.7" y2="271.3" stroke="#000" stroke-width="2.6"/><text transform="translate(600.0 16.0) scale(1.0 1)" text-anchor="middle" class="ti">Triglycerides</text><text transform="translate(604.5 42.4) scale(0.97 1)" text-anchor="middle" class="eq">y = -0.0003x + 0.3512</text><text transform="translate(605.2 60.0) scale(0.97 1)" text-anchor="middle" class="eq">R2 = 3E-06, p = 0.827</text><text transform="translate(421 173.7) rotate(-90) scale(1 1.075)" text-anchor="middle" class="yl">Cord serum</text><text transform="translate(621.8 371.2) scale(1.0 1)" text-anchor="middle" class="xl">Maternal serum</text></g>
<g id="c3"><polygon points="195.7,573.8 195.2,578.7 197.9,585.4 203.2,592.1 210.2,594.0 222.3,594.0 236.7,595.1 245.6,597.8 255.6,596.1 269.6,594.0 285.2,594.8 288.6,592.3 292.5,582.5 305.1,572.4 309.2,570.4 306.9,569.5 293.4,565.0 283.8,556.6 276.9,549.6 268.5,546.1 256.5,546.9 242.9,550.5 231.1,555.5 218.2,559.4 208.2,564.0 199.8,569.0" fill="#000"/><path d="M273.3 592.3l4.3 4.3l-4.3 4.3l-4.3-4.3zM254.2 597.1l4.3 4.3l-4.3 4.3l-4.3-4.3zM228.2 555.7l4.3 4.3l-4.3 4.3l-4.3-4.3zM253.3 539.5l4.3 4.3l-4.3 4.3l-4.3-4.3zM244.3 589.5l4.3 4.3l-4.3 4.3l-4.3-4.3zM308.8 571.2l4.3 4.3l-4.3 4.3l-4.3-4.3zM277.1 543.5l4.3 4.3l-4.3 4.3l-4.3-4.3zM226.1 549.6l4.3 4.3l-4.3 4.3l-4.3-4.3zM205.3 556.4l4.3 4.3l-4.3 4.3l-4.3-4.3zM220.7 553.3l4.3 4.3l-4.3 4.3l-4.3-4.3zM190.3 569.2l4.3 4.3l-4.3 4.3l-4.3-4.3zM204.9 556.1l4.3 4.3l-4.3 4.3l-4.3-4.3zM230.0 592.2l4.3 4.3l-4.3 4.3l-4.3-4.3zM279.8 546.4l4.3 4.3l-4.3 4.3l-4.3-4.3zM255.3 589.8l4.3 4.3l-4.3 4.3l-4.3-4.3zM242.6 594.0l4.3 4.3l-4.3 4.3l-4.3-4.3zM289.9 586.1l4.3 4.3l-4.3 4.3l-4.3-4.3zM284.8 590.8l4.3 4.3l-4.3 4.3l-4.3-4.3zM206.0 557.1l4.3 4.3l-4.3 4.3l-4.3-4.3zM242.8 544.4l4.3 4.3l-4.3 4.3l-4.3-4.3zM235.9 552.1l4.3 4.3l-4.3 4.3l-4.3-4.3zM228.9 588.7l4.3 4.3l-4.3 4.3l-4.3-4.3zM282.7 550.3l4.3 4.3l-4.3 4.3l-4.3-4.3zM232.1 587.2l4.3 4.3l-4.3 4.3l-4.3-4.3zM291.0 560.5l4.3 4.3l-4.3 4.3l-4.3-4.3zM215.1 591.8l4.3 4.3l-4.3 4.3l-4.3-4.3zM202.1 584.6l4.3 4.3l-4.3 4.3l-4.3-4.3zM262.7 541.9l4.3 4.3l-4.3 4.3l-4.3-4.3zM305.2 569.6l4.3 4.3l-4.3 4.3l-4.3-4.3zM248.4 593.9l4.3 4.3l-4.3 4.3l-4.3-4.3zM219.8 552.2l4.3 4.3l-4.3 4.3l-4.3-4.3zM228.6 590.3l4.3 4.3l-4.3 4.3l-4.3-4.3zM228.5 588.3l4.3 4.3l-4.3 4.3l-4.3-4.3zM234.6 543.7l4.3 4.3l-4.3 4.3l-4.3-4.3zM295.4 577.1l4.3 4.3l-4.3 4.3l-4.3-4.3zM269.4 588.3l4.3 4.3l-4.3 4.3l-4.3-4.3zM204.2 585.9l4.3 4.3l-4.3 4.3l-4.3-4.3zM305.6 563.5l4.3 4.3l-4.3 4.3l-4.3-4.3zM222.2 551.5l4.3 4.3l-4.3 4.3l-4.3-4.3zM281.5 544.4l4.3 4.3l-4.3 4.3l-4.3-4.3zM212.2 587.2l4.3 4.3l-4.3 4.3l-4.3-4.3zM265.6 540.1l4.3 4.3l-4.3 4.3l-4.3-4.3zM230.6 590.9l4.3 4.3l-4.3 4.3l-4.3-4.3zM242.4 546.6l4.3 4.3l-4.3 4.3l-4.3-4.3zM286.5 558.0l4.3 4.3l-4.3 4.3l-4.3-4.3zM275.0 541.4l4.3 4.3l-4.3 4.3l-4.3-4.3zM285.3 595.2l4.3 4.3l-4.3 4.3l-4.3-4.3zM269.3 591.4l4.3 4.3l-4.3 4.3l-4.3-4.3zM292.7 559.2l4.3 4.3l-4.3 4.3l-4.3-4.3zM304.3 558.8l4.3 4.3l-4.3 4.3l-4.3-4.3zM260.5 588.6l4.3 4.3l-4.3 4.3l-4.3-4.3zM215.3 558.3l4.3 4.3l-4.3 4.3l-4.3-4.3zM290.2 581.2l4.3 4.3l-4.3 4.3l-4.3-4.3zM268.5 542.3l4.3 4.3l-4.3 4.3l-4.3-4.3zM204.1 557.3l4.3 4.3l-4.3 4.3l-4.3-4.3zM306.9 570.7l4.3 4.3l-4.3 4.3l-4.3-4.3zM192.9 569.7l4.3 4.3l-4.3 4.3l-4.3-4.3zM252.9 541.2l4.3 4.3l-4.3 4.3l-4.3-4.3zM289.5 581.8l4.3 4.3l-4.3 4.3l-4.3-4.3zM279.8 587.8l4.3 4.3l-4.3 4.3l-4.3-4.3zM301.8 557.6l4.3 4.3l-4.3 4.3l-4.3-4.3zM204.9 555.6l4.3 4.3l-4.3 4.3l-4.3-4.3zM237.2 549.1l4.3 4.3l-4.3 4.3l-4.3-4.3zM261.4 588.0l4.3 4.3l-4.3 4.3l-4.3-4.3zM302.0 572.9l4.3 4.3l-4.3 4.3l-4.3-4.3zM293.5 561.6l4.3 4.3l-4.3 4.3l-4.3-4.3zM246.9 593.5l4.3 4.3l-4.3 4.3l-4.3-4.3zM191.8 566.8l4.3 4.3l-4.3 4.3l-4.3-4.3zM206.5 563.3l4.3 4.3l-4.3 4.3l-4.3-4.3zM289.0 583.4l4.3 4.3l-4.3 4.3l-4.3-4.3zM283.2 547.1l4.3 4.3l-4.3 4.3l-4.3-4.3zM248.5 598.6l4.3 4.3l-4.3 4.3l-4.3-4.3zM269.0 544.8l4.3 4.3l-4.3 4.3l-4.3-4.3zM300.7 569.4l4.3 4.3l-4.3 4.3l-4.3-4.3zM197.7 584.9l4.3 4.3l-4.3 4.3l-4.3-4.3zM276.3 540.6l4.3 4.3l-4.3 4.3l-4.3-4.3zM277.6 593.0l4.3 4.3l-4.3 4.3l-4.3-4.3zM237.2 596.8l4.3 4.3l-4.3 4.3l-4.3-4.3zM304.9 558.8l4.3 4.3l-4.3 4.3l-4.3-4.3zM233.1 552.7l4.3 4.3l-4.3 4.3l-4.3-4.3zM297.2 559.9l4.3 4.3l-4.3 4.3l-4.3-4.3zM233.8 596.1l4.3 4.3l-4.3 4.3l-4.3-4.3zM211.2 586.2l4.3 4.3l-4.3 4.3l-4.3-4.3zM265.9 590.8l4.3 4.3l-4.3 4.3l-4.3-4.3zM289.0 560.1l4.3 4.3l-4.3 4.3l-4.3-4.3zM193.6 584.1l4.3 4.3l-4.3 4.3l-4.3-4.3zM265.8 588.7l4.3 4.3l-4.3 4.3l-4.3-4.3zM218.0 552.7l4.3 4.3l-4.3 4.3l-4.3-4.3zM249.3 593.6l4.3 4.3l-4.3 4.3l-4.3-4.3zM224.9 547.6l4.3 4.3l-4.3 4.3l-4.3-4.3zM220.1 588.3l4.3 4.3l-4.3 4.3l-4.3-4.3zM291.8 580.5l4.3 4.3l-4.3 4.3l-4.3-4.3zM229.4 555.2l4.3 4.3l-4.3 4.3l-4.3-4.3zM304.4 560.2l4.3 4.3l-4.3 4.3l-4.3-4.3zM276.7 594.8l4.3 4.3l-4.3 4.3l-4.3-4.3zM277.0 590.0l4.3 4.3l-4.3 4.3l-4.3-4.3zM194.7 578.8l4.3 4.3l-4.3 4.3l-4.3-4.3zM295.5 584.5l4.3 4.3l-4.3 4.3l-4.3-4.3zM245.5 545.5l4.3 4.3l-4.3 4.3l-4.3-4.3zM283.4 594.7l4.3 4.3l-4.3 4.3l-4.3-4.3zM281.8 594.9l4.3 4.3l-4.3 4.3l-4.3-4.3zM284.9 555.2l4.3 4.3l-4.3 4.3l-4.3-4.3zM288.8 555.9l4.3 4.3l-4.3 4.3l-4.3-4.3zM223.7 556.9l4.3 4.3l-4.3 4.3l-4.3-4.3zM208.8 553.6l4.3 4.3l-4.3 4.3l-4.3-4.3zM284.1 588.2l4.3 4.3l-4.3 4.3l-4.3-4.3zM211.6 593.0l4.3 4.3l-4.3 4.3l-4.3-4.3zM258.5 588.7l4.3 4.3l-4.3 4.3l-4.3-4.3zM202.4 588.3l4.3 4.3l-4.3 4.3l-4.3-4.3zM242.0 592.7l4.3 4.3l-4.3 4.3l-4.3-4.3zM241.3 546.8l4.3 4.3l-4.3 4.3l-4.3-4.3zM222.5 594.4l4.3 4.3l-4.3 4.3l-4.3-4.3zM273.2 537.9l4.3 4.3l-4.3 4.3l-4.3-4.3zM198.0 561.6l4.3 4.3l-4.3 4.3l-4.3-4.3zM291.5 587.3l4.3 4.3l-4.3 4.3l-4.3-4.3zM258.3 544.3l4.3 4.3l-4.3 4.3l-4.3-4.3zM279.5 552.3l4.3 4.3l-4.3 4.3l-4.3-4.3zM213.0 586.6l4.3 4.3l-4.3 4.3l-4.3-4.3zM275.7 587.4l4.3 4.3l-4.3 4.3l-4.3-4.3zM297.1 577.7l4.3 4.3l-4.3 4.3l-4.3-4.3zM223.7 590.7l4.3 4.3l-4.3 4.3l-4.3-4.3zM214.2 553.5l4.3 4.3l-4.3 4.3l-4.3-4.3zM295.8 564.8l4.3 4.3l-4.3 4.3l-4.3-4.3zM209.1 592.8l4.3 4.3l-4.3 4.3l-4.3-4.3zM266.2 537.3l4.3 4.3l-4.3 4.3l-4.3-4.3zM300.0 572.4l4.3 4.3l-4.3 4.3l-4.3-4.3zM250.8 592.0l4.3 4.3l-4.3 4.3l-4.3-4.3zM277.2 589.9l4.3 4.3l-4.3 4.3l-4.3-4.3zM262.3 595.4l4.3 4.3l-4.3 4.3l-4.3-4.3zM250.0 539.9l4.3 4.3l-4.3 4.3l-4.3-4.3zM282.7 545.8l4.3 4.3l-4.3 4.3l-4.3-4.3zM207.7 558.3l4.3 4.3l-4.3 4.3l-4.3-4.3zM291.7 555.7l4.3 4.3l-4.3 4.3l-4.3-4.3zM222.9 594.5l4.3 4.3l-4.3 4.3l-4.3-4.3zM217.3 550.3l4.3 4.3l-4.3 4.3l-4.3-4.3zM242.1 543.2l4.3 4.3l-4.3 4.3l-4.3-4.3zM193.1 570.3l4.3 4.3l-4.3 4.3l-4.3-4.3zM234.7 590.3l4.3 4.3l-4.3 4.3l-4.3-4.3zM202.6 563.9l4.3 4.3l-4.3 4.3l-4.3-4.3zM277.0 544.0l4.3 4.3l-4.3 4.3l-4.3-4.3zM300.4 578.9l4.3 4.3l-4.3 4.3l-4.3-4.3zM292.0 553.5l4.3 4.3l-4.3 4.3l-4.3-4.3zM278.4 588.5l4.3 4.3l-4.3 4.3l-4.3-4.3zM219.1 594.4l4.3 4.3l-4.3 4.3l-4.3-4.3zM227.0 589.2l4.3 4.3l-4.3 4.3l-4.3-4.3zM273.8 543.9l4.3 4.3l-4.3 4.3l-4.3-4.3zM237.1 551.6l4.3 4.3l-4.3 4.3l-4.3-4.3zM252.9 596.2l4.3 4.3l-4.3 4.3l-4.3-4.3zM201.8 566.3l4.3 4.3l-4.3 4.3l-4.3-4.3zM291.8 575.4l4.3 4.3l-4.3 4.3l-4.3-4.3zM206.2 591.2l4.3 4.3l-4.3 4.3l-4.3-4.3zM301.1 566.6l4.3 4.3l-4.3 4.3l-4.3-4.3zM282.2 550.6l4.3 4.3l-4.3 4.3l-4.3-4.3zM230.5 589.2l4.3 4.3l-4.3 4.3l-4.3-4.3zM291.8 554.5l4.3 4.3l-4.3 4.3l-4.3-4.3zM241.1 597.5l4.3 4.3l-4.3 4.3l-4.3-4.3zM283.7 553.1l4.3 4.3l-4.3 4.3l-4.3-4.3zM248.5 595.9l4.3 4.3l-4.3 4.3l-4.3-4.3zM206.2 560.7l4.3 4.3l-4.3 4.3l-4.3-4.3zM293.4 586.3l4.3 4.3l-4.3 4.3l-4.3-4.3zM193.8 576.4l4.3 4.3l-4.3 4.3l-4.3-4.3zM210.9 561.5l4.3 4.3l-4.3 4.3l-4.3-4.3zM254.3 590.3l4.3 4.3l-4.3 4.3l-4.3-4.3zM208.0 557.9l4.3 4.3l-4.3 4.3l-4.3-4.3zM295.6 580.5l4.3 4.3l-4.3 4.3l-4.3-4.3zM233.7 544.4l4.3 4.3l-4.3 4.3l-4.3-4.3zM289.9 591.0l4.3 4.3l-4.3 4.3l-4.3-4.3zM264.1 594.8l4.3 4.3l-4.3 4.3l-4.3-4.3zM240.5 549.2l4.3 4.3l-4.3 4.3l-4.3-4.3zM269.1 537.1l4.3 4.3l-4.3 4.3l-4.3-4.3zM245.3 548.4l4.3 4.3l-4.3 4.3l-4.3-4.3zM207.6 560.1l4.3 4.3l-4.3 4.3l-4.3-4.3zM274.4 538.2l4.3 4.3l-4.3 4.3l-4.3-4.3zM301.6 563.0l4.3 4.3l-4.3 4.3l-4.3-4.3zM304.9 571.7l4.3 4.3l-4.3 4.3l-4.3-4.3zM234.7 549.6l4.3 4.3l-4.3 4.3l-4.3-4.3zM208.0 562.3l4.3 4.3l-4.3 4.3l-4.3-4.3zM243.5 595.7l4.3 4.3l-4.3 4.3l-4.3-4.3zM215.6 559.6l4.3 4.3l-4.3 4.3l-4.3-4.3zM255.6 534.8l4.3 4.3l-4.3 4.3l-4.3-4.3zM287.6 534.6l4.3 4.3l-4.3 4.3l-4.3-4.3zM219.4 543.4l4.3 4.3l-4.3 4.3l-4.3-4.3zM257.1 525.5l4.3 4.3l-4.3 4.3l-4.3-4.3zM230.8 532.5l4.3 4.3l-4.3 4.3l-4.3-4.3zM226.2 537.3l4.3 4.3l-4.3 4.3l-4.3-4.3zM206.8 550.5l4.3 4.3l-4.3 4.3l-4.3-4.3zM245.8 525.8l4.3 4.3l-4.3 4.3l-4.3-4.3zM279.3 534.0l4.3 4.3l-4.3 4.3l-4.3-4.3zM262.7 521.1l4.3 4.3l-4.3 4.3l-4.3-4.3zM235.4 535.6l4.3 4.3l-4.3 4.3l-4.3-4.3zM214.3 548.0l4.3 4.3l-4.3 4.3l-4.3-4.3zM237.9 527.0l4.3 4.3l-4.3 4.3l-4.3-4.3zM247.0 528.4l4.3 4.3l-4.3 4.3l-4.3-4.3zM269.0 526.6l4.3 4.3l-4.3 4.3l-4.3-4.3zM265.7 528.2l4.3 4.3l-4.3 4.3l-4.3-4.3zM272.7 529.1l4.3 4.3l-4.3 4.3l-4.3-4.3zM278.1 534.7l4.3 4.3l-4.3 4.3l-4.3-4.3zM274.2 531.9l4.3 4.3l-4.3 4.3l-4.3-4.3zM250.2 533.1l4.3 4.3l-4.3 4.3l-4.3-4.3zM283.7 532.5l4.3 4.3l-4.3 4.3l-4.3-4.3zM209.9 544.7l4.3 4.3l-4.3 4.3l-4.3-4.3zM222.5 539.3l4.3 4.3l-4.3 4.3l-4.3-4.3zM281.4 534.8l4.3 4.3l-4.3 4.3l-4.3-4.3zM210.2 541.9l4.3 4.3l-4.3 4.3l-4.3-4.3zM272.7 526.2l4.3 4.3l-4.3 4.3l-4.3-4.3zM283.3 532.6l4.3 4.3l-4.3 4.3l-4.3-4.3zM221.3 537.2l4.3 4.3l-4.3 4.3l-4.3-4.3zM226.9 531.0l4.3 4.3l-4.3 4.3l-4.3-4.3zM244.7 535.2l4.3 4.3l-4.3 4.3l-4.3-4.3zM245.4 537.9l4.3 4.3l-4.3 4.3l-4.3-4.3zM218.7 536.1l4.3 4.3l-4.3 4.3l-4.3-4.3zM249.7 525.5l4.3 4.3l-4.3 4.3l-4.3-4.3zM261.8 524.5l4.3 4.3l-4.3 4.3l-4.3-4.3zM243.0 526.6l4.3 4.3l-4.3 4.3l-4.3-4.3zM212.0 538.5l4.3 4.3l-4.3 4.3l-4.3-4.3zM277.2 536.9l4.3 4.3l-4.3 4.3l-4.3-4.3zM283.0 538.1l4.3 4.3l-4.3 4.3l-4.3-4.3zM225.1 532.7l4.3 4.3l-4.3 4.3l-4.3-4.3zM296.9 577.7l4.3 4.3l-4.3 4.3l-4.3-4.3zM304.4 589.6l4.3 4.3l-4.3 4.3l-4.3-4.3zM309.2 567.6l4.3 4.3l-4.3 4.3l-4.3-4.3zM308.5 589.7l4.3 4.3l-4.3 4.3l-4.3-4.3zM297.2 547.7l4.3 4.3l-4.3 4.3l-4.3-4.3zM304.4 561.6l4.3 4.3l-4.3 4.3l-4.3-4.3zM295.1 553.1l4.3 4.3l-4.3 4.3l-4.3-4.3zM304.9 588.4l4.3 4.3l-4.3 4.3l-4.3-4.3zM302.8 584.6l4.3 4.3l-4.3 4.3l-4.3-4.3zM304.2 579.2l4.3 4.3l-4.3 4.3l-4.3-4.3zM298.4 566.9l4.3 4.3l-4.3 4.3l-4.3-4.3zM304.3 561.1l4.3 4.3l-4.3 4.3l-4.3-4.3zM294.6 552.5l4.3 4.3l-4.3 4.3l-4.3-4.3zM303.3 562.3l4.3 4.3l-4.3 4.3l-4.3-4.3zM302.6 578.7l4.3 4.3l-4.3 4.3l-4.3-4.3zM311.7 582.9l4.3 4.3l-4.3 4.3l-4.3-4.3zM308.0 591.3l4.3 4.3l-4.3 4.3l-4.3-4.3zM298.4 579.5l4.3 4.3l-4.3 4.3l-4.3-4.3zM301.5 586.0l4.3 4.3l-4.3 4.3l-4.3-4.3zM299.3 581.9l4.3 4.3l-4.3 4.3l-4.3-4.3zM297.7 560.6l4.3 4.3l-4.3 4.3l-4.3-4.3zM304.5 567.1l4.3 4.3l-4.3 4.3l-4.3-4.3zM297.5 566.5l4.3 4.3l-4.3 4.3l-4.3-4.3zM298.0 560.1l4.3 4.3l-4.3 4.3l-4.3-4.3zM297.9 573.9l4.3 4.3l-4.3 4.3l-4.3-4.3zM305.0 562.3l4.3 4.3l-4.3 4.3l-4.3-4.3z" fill="#000"/><path d="M199.4 452.6l4.3 4.3l-4.3 4.3l-4.3-4.3zM207.9 467.2l4.3 4.3l-4.3 4.3l-4.3-4.3zM238.8 496.3l4.3 4.3l-4.3 4.3l-4.3-4.3zM227.8 508.8l4.3 4.3l-4.3 4.3l-4.3-4.3zM203.1 515.1l4.3 4.3l-4.3 4.3l-4.3-4.3zM217.2 514.2l4.3 4.3l-4.3 4.3l-4.3-4.3zM230.0 516.3l4.3 4.3l-4.3 4.3l-4.3-4.3zM240.0 513.2l4.3 4.3l-4.3 4.3l-4.3-4.3zM246.2 512.6l4.3 4.3l-4.3 4.3l-4.3-4.3zM245.0 520.1l4.3 4.3l-4.3 4.3l-4.3-4.3zM189.4 522.2l4.3 4.3l-4.3 4.3l-4.3-4.3zM217.5 525.7l4.3 4.3l-4.3 4.3l-4.3-4.3zM222.2 526.3l4.3 4.3l-4.3 4.3l-4.3-4.3zM234.0 524.5l4.3 4.3l-4.3 4.3l-4.3-4.3zM206.9 529.7l4.3 4.3l-4.3 4.3l-4.3-4.3zM199.4 533.2l4.3 4.3l-4.3 4.3l-4.3-4.3zM228.8 531.3l4.3 4.3l-4.3 4.3l-4.3-4.3zM242.5 529.5l4.3 4.3l-4.3 4.3l-4.3-4.3zM266.0 501.3l4.3 4.3l-4.3 4.3l-4.3-4.3zM272.2 511.9l4.3 4.3l-4.3 4.3l-4.3-4.3zM290.6 511.9l4.3 4.3l-4.3 4.3l-4.3-4.3zM310.2 512.2l4.3 4.3l-4.3 4.3l-4.3-4.3zM270.6 517.6l4.3 4.3l-4.3 4.3l-4.3-4.3zM283.1 518.5l4.3 4.3l-4.3 4.3l-4.3-4.3zM290.6 519.5l4.3 4.3l-4.3 4.3l-4.3-4.3zM292.2 526.3l4.3 4.3l-4.3 4.3l-4.3-4.3zM296.0 529.5l4.3 4.3l-4.3 4.3l-4.3-4.3zM285.0 535.7l4.3 4.3l-4.3 4.3l-4.3-4.3zM318.8 541.7l4.3 4.3l-4.3 4.3l-4.3-4.3zM313.8 548.2l4.3 4.3l-4.3 4.3l-4.3-4.3zM292.5 544.5l4.3 4.3l-4.3 4.3l-4.3-4.3zM320.0 556.3l4.3 4.3l-4.3 4.3l-4.3-4.3zM330.0 562.2l4.3 4.3l-4.3 4.3l-4.3-4.3zM300.0 555.7l4.3 4.3l-4.3 4.3l-4.3-4.3zM311.9 560.1l4.3 4.3l-4.3 4.3l-4.3-4.3zM261.2 524.5l4.3 4.3l-4.3 4.3l-4.3-4.3zM273.8 526.3l4.3 4.3l-4.3 4.3l-4.3-4.3zM200.6 533.8l4.3 4.3l-4.3 4.3l-4.3-4.3zM194.4 540.7l4.3 4.3l-4.3 4.3l-4.3-4.3zM183.1 548.8l4.3 4.3l-4.3 4.3l-4.3-4.3zM172.2 553.0l4.3 4.3l-4.3 4.3l-4.3-4.3zM189.4 553.2l4.3 4.3l-4.3 4.3l-4.3-4.3zM178.5 566.3l4.3 4.3l-4.3 4.3l-4.3-4.3zM168.5 580.1l4.3 4.3l-4.3 4.3l-4.3-4.3zM159.0 583.5l4.3 4.3l-4.3 4.3l-4.3-4.3zM166.0 587.6l4.3 4.3l-4.3 4.3l-4.3-4.3zM173.8 593.8l4.3 4.3l-4.3 4.3l-4.3-4.3zM180.0 587.0l4.3 4.3l-4.3 4.3l-4.3-4.3zM184.0 588.2l4.3 4.3l-4.3 4.3l-4.3-4.3zM184.4 597.2l4.3 4.3l-4.3 4.3l-4.3-4.3zM179.8 605.7l4.3 4.3l-4.3 4.3l-4.3-4.3zM194.4 603.2l4.3 4.3l-4.3 4.3l-4.3-4.3zM189.8 610.7l4.3 4.3l-4.3 4.3l-4.3-4.3zM217.5 538.2l4.3 4.3l-4.3 4.3l-4.3-4.3zM228.8 530.7l4.3 4.3l-4.3 4.3l-4.3-4.3zM183.8 572.0l4.3 4.3l-4.3 4.3l-4.3-4.3zM187.5 567.0l4.3 4.3l-4.3 4.3l-4.3-4.3zM195.6 663.2l4.3 4.3l-4.3 4.3l-4.3-4.3zM238.8 625.5l4.3 4.3l-4.3 4.3l-4.3-4.3zM190.6 610.7l4.3 4.3l-4.3 4.3l-4.3-4.3zM206.2 602.0l4.3 4.3l-4.3 4.3l-4.3-4.3zM218.8 604.5l4.3 4.3l-4.3 4.3l-4.3-4.3zM230.0 604.5l4.3 4.3l-4.3 4.3l-4.3-4.3zM240.0 608.8l4.3 4.3l-4.3 4.3l-4.3-4.3zM247.5 612.6l4.3 4.3l-4.3 4.3l-4.3-4.3zM255.6 608.8l4.3 4.3l-4.3 4.3l-4.3-4.3zM286.9 612.6l4.3 4.3l-4.3 4.3l-4.3-4.3zM270.0 603.2l4.3 4.3l-4.3 4.3l-4.3-4.3zM282.5 604.5l4.3 4.3l-4.3 4.3l-4.3-4.3zM319.0 541.3l4.3 4.3l-4.3 4.3l-4.3-4.3zM286.9 538.2l4.3 4.3l-4.3 4.3l-4.3-4.3zM293.8 546.3l4.3 4.3l-4.3 4.3l-4.3-4.3zM330.0 562.6l4.3 4.3l-4.3 4.3l-4.3-4.3zM345.0 566.3l4.3 4.3l-4.3 4.3l-4.3-4.3zM360.6 597.0l4.3 4.3l-4.3 4.3l-4.3-4.3zM325.0 581.3l4.3 4.3l-4.3 4.3l-4.3-4.3zM331.2 589.5l4.3 4.3l-4.3 4.3l-4.3-4.3zM321.2 587.0l4.3 4.3l-4.3 4.3l-4.3-4.3zM317.5 585.1l4.3 4.3l-4.3 4.3l-4.3-4.3zM310.0 595.1l4.3 4.3l-4.3 4.3l-4.3-4.3zM301.9 594.5l4.3 4.3l-4.3 4.3l-4.3-4.3zM293.8 599.5l4.3 4.3l-4.3 4.3l-4.3-4.3zM286.9 613.2l4.3 4.3l-4.3 4.3l-4.3-4.3zM325.0 604.5l4.3 4.3l-4.3 4.3l-4.3-4.3zM312.5 559.5l4.3 4.3l-4.3 4.3l-4.3-4.3zM305.0 560.7l4.3 4.3l-4.3 4.3l-4.3-4.3zM317.5 568.8l4.3 4.3l-4.3 4.3l-4.3-4.3zM312.5 572.0l4.3 4.3l-4.3 4.3l-4.3-4.3zM307.5 574.5l4.3 4.3l-4.3 4.3l-4.3-4.3zM305.0 588.2l4.3 4.3l-4.3 4.3l-4.3-4.3zM285.0 605.7l4.3 4.3l-4.3 4.3l-4.3-4.3zM99.2 539.5l4.3 4.3l-4.3 4.3l-4.3-4.3zM62.8 573.7l4.3 4.3l-4.3 4.3l-4.3-4.3zM114.2 567.7l4.3 4.3l-4.3 4.3l-4.3-4.3zM128.8 575.2l4.3 4.3l-4.3 4.3l-4.3-4.3zM97.0 604.5l4.3 4.3l-4.3 4.3l-4.3-4.3zM172.0 553.0l4.3 4.3l-4.3 4.3l-4.3-4.3zM158.5 583.5l4.3 4.3l-4.3 4.3l-4.3-4.3zM168.2 580.0l4.3 4.3l-4.3 4.3l-4.3-4.3zM166.0 587.5l4.3 4.3l-4.3 4.3l-4.3-4.3zM173.5 593.2l4.3 4.3l-4.3 4.3l-4.3-4.3z" fill="#000"/><path d="M55.4 447.0V670.3H375.2" fill="none" stroke="#0a0a0a" stroke-width="1.5"/><path d="M51.4 670.3H55.4M51.4 633.1H55.4M51.4 595.9H55.4M51.4 558.7H55.4M51.4 521.4H55.4M51.4 484.2H55.4M51.4 447.0H55.4M55.4 670.3v4M108.7 670.3v4M162.0 670.3v4M215.3 670.3v4M268.6 670.3v4M321.9 670.3v4M375.2 670.3v4" fill="none" stroke="#0a0a0a" stroke-width="1.5"/><text transform="translate(44.2 674.9) scale(1.0 1)" text-anchor="end" class="tk">0.0</text><text transform="translate(44.2 637.7) scale(1.0 1)" text-anchor="end" class="tk">0.5</text><text transform="translate(44.2 600.5) scale(1.0 1)" text-anchor="end" class="tk">1.0</text><text transform="translate(44.2 563.3) scale(1.0 1)" text-anchor="end" class="tk">1.5</text><text transform="translate(44.2 526.0) scale(1.0 1)" text-anchor="end" class="tk">2.0</text><text transform="translate(44.2 488.8) scale(1.0 1)" text-anchor="end" class="tk">2.5</text><text transform="translate(44.2 451.6) scale(1.0 1)" text-anchor="end" class="tk">3.0</text><text transform="translate(55.4 693.3) scale(1.0 1)" text-anchor="middle" class="tk">0</text><text transform="translate(108.7 693.3) scale(1.0 1)" text-anchor="middle" class="tk">1</text><text transform="translate(162.0 693.3) scale(1.0 1)" text-anchor="middle" class="tk">2</text><text transform="translate(215.3 693.3) scale(1.0 1)" text-anchor="middle" class="tk">3</text><text transform="translate(268.6 693.3) scale(1.0 1)" text-anchor="middle" class="tk">4</text><text transform="translate(321.9 693.3) scale(1.0 1)" text-anchor="middle" class="tk">5</text><text transform="translate(375.2 693.3) scale(1.0 1)" text-anchor="middle" class="tk">6</text><line x1="62.4" y1="583.2" x2="365.6" y2="572.1" stroke="#000" stroke-width="2.6"/><text transform="translate(189.3 411.0) scale(1.0 1)" text-anchor="middle" class="ti">Phospholipids</text><text transform="translate(194.0 429.0) scale(0.97 1)" text-anchor="middle" class="eq">y = 0.0264x + 1.1663</text><text transform="translate(194.5 446.6) scale(0.97 1)" text-anchor="middle" class="eq">R<tspan dy="-5.4" font-size="8">2</tspan><tspan dy="5.4"> = 0.0034, p = 0.056</tspan></text><text transform="translate(17.8 560.6) rotate(-90) scale(1 1.075)" text-anchor="middle" class="yl">Cord serum</text><text transform="translate(214.2 715.0) scale(1.0 1)" text-anchor="middle" class="xl">Maternal serum</text></g>
<g id="c4"><polygon points="570.0,586.5 570.0,591.2 572.1,602.7 571.1,611.8 572.4,620.4 576.2,623.7 586.8,626.2 598.1,628.1 610.0,629.0 620.9,628.1 633.6,626.1 645.1,624.2 655.4,621.4 665.8,617.9 670.9,614.1 673.2,609.5 673.9,602.9 671.9,596.3 666.2,589.2 658.5,585.3 647.8,581.8 636.9,579.9 624.2,579.0 605.4,577.1 597.6,578.7 588.0,582.5 576.8,585.9" fill="#000"/><path d="M663.7 578.3l4.3 4.3l-4.3 4.3l-4.3-4.3zM572.9 620.3l4.3 4.3l-4.3 4.3l-4.3-4.3zM635.5 574.2l4.3 4.3l-4.3 4.3l-4.3-4.3zM568.4 591.5l4.3 4.3l-4.3 4.3l-4.3-4.3zM619.4 625.0l4.3 4.3l-4.3 4.3l-4.3-4.3zM593.0 570.2l4.3 4.3l-4.3 4.3l-4.3-4.3zM642.0 618.7l4.3 4.3l-4.3 4.3l-4.3-4.3zM614.6 569.5l4.3 4.3l-4.3 4.3l-4.3-4.3zM582.5 581.2l4.3 4.3l-4.3 4.3l-4.3-4.3zM587.3 574.2l4.3 4.3l-4.3 4.3l-4.3-4.3zM634.3 570.9l4.3 4.3l-4.3 4.3l-4.3-4.3zM614.3 570.2l4.3 4.3l-4.3 4.3l-4.3-4.3zM636.1 574.9l4.3 4.3l-4.3 4.3l-4.3-4.3zM661.2 619.6l4.3 4.3l-4.3 4.3l-4.3-4.3zM596.6 627.8l4.3 4.3l-4.3 4.3l-4.3-4.3zM594.6 571.2l4.3 4.3l-4.3 4.3l-4.3-4.3zM623.4 621.8l4.3 4.3l-4.3 4.3l-4.3-4.3zM627.4 626.7l4.3 4.3l-4.3 4.3l-4.3-4.3zM572.8 583.1l4.3 4.3l-4.3 4.3l-4.3-4.3zM673.0 608.6l4.3 4.3l-4.3 4.3l-4.3-4.3zM573.0 595.0l4.3 4.3l-4.3 4.3l-4.3-4.3zM639.4 624.7l4.3 4.3l-4.3 4.3l-4.3-4.3zM574.1 624.1l4.3 4.3l-4.3 4.3l-4.3-4.3zM628.9 571.7l4.3 4.3l-4.3 4.3l-4.3-4.3zM621.6 624.6l4.3 4.3l-4.3 4.3l-4.3-4.3zM672.4 610.3l4.3 4.3l-4.3 4.3l-4.3-4.3zM588.8 575.3l4.3 4.3l-4.3 4.3l-4.3-4.3zM599.9 575.2l4.3 4.3l-4.3 4.3l-4.3-4.3zM670.4 607.0l4.3 4.3l-4.3 4.3l-4.3-4.3zM656.0 574.5l4.3 4.3l-4.3 4.3l-4.3-4.3zM629.2 621.3l4.3 4.3l-4.3 4.3l-4.3-4.3zM613.8 626.6l4.3 4.3l-4.3 4.3l-4.3-4.3zM581.6 583.8l4.3 4.3l-4.3 4.3l-4.3-4.3zM640.4 578.0l4.3 4.3l-4.3 4.3l-4.3-4.3zM586.7 620.0l4.3 4.3l-4.3 4.3l-4.3-4.3zM568.2 584.4l4.3 4.3l-4.3 4.3l-4.3-4.3zM673.0 594.7l4.3 4.3l-4.3 4.3l-4.3-4.3zM665.2 588.6l4.3 4.3l-4.3 4.3l-4.3-4.3zM594.2 623.4l4.3 4.3l-4.3 4.3l-4.3-4.3zM628.6 619.7l4.3 4.3l-4.3 4.3l-4.3-4.3zM621.5 626.8l4.3 4.3l-4.3 4.3l-4.3-4.3zM637.9 574.3l4.3 4.3l-4.3 4.3l-4.3-4.3zM656.1 616.1l4.3 4.3l-4.3 4.3l-4.3-4.3zM609.2 625.7l4.3 4.3l-4.3 4.3l-4.3-4.3zM625.8 574.2l4.3 4.3l-4.3 4.3l-4.3-4.3zM624.9 625.2l4.3 4.3l-4.3 4.3l-4.3-4.3zM574.2 599.4l4.3 4.3l-4.3 4.3l-4.3-4.3zM566.0 582.7l4.3 4.3l-4.3 4.3l-4.3-4.3zM602.3 569.6l4.3 4.3l-4.3 4.3l-4.3-4.3zM674.3 609.7l4.3 4.3l-4.3 4.3l-4.3-4.3zM677.2 602.4l4.3 4.3l-4.3 4.3l-4.3-4.3zM654.0 582.3l4.3 4.3l-4.3 4.3l-4.3-4.3zM661.2 611.7l4.3 4.3l-4.3 4.3l-4.3-4.3zM670.1 603.0l4.3 4.3l-4.3 4.3l-4.3-4.3zM581.0 624.5l4.3 4.3l-4.3 4.3l-4.3-4.3zM599.1 625.5l4.3 4.3l-4.3 4.3l-4.3-4.3zM574.1 624.2l4.3 4.3l-4.3 4.3l-4.3-4.3zM604.5 568.6l4.3 4.3l-4.3 4.3l-4.3-4.3zM637.4 624.9l4.3 4.3l-4.3 4.3l-4.3-4.3zM604.8 627.4l4.3 4.3l-4.3 4.3l-4.3-4.3zM594.1 578.9l4.3 4.3l-4.3 4.3l-4.3-4.3zM599.8 569.2l4.3 4.3l-4.3 4.3l-4.3-4.3zM642.8 579.2l4.3 4.3l-4.3 4.3l-4.3-4.3zM663.4 585.1l4.3 4.3l-4.3 4.3l-4.3-4.3zM575.9 622.5l4.3 4.3l-4.3 4.3l-4.3-4.3zM573.4 611.0l4.3 4.3l-4.3 4.3l-4.3-4.3zM603.9 570.7l4.3 4.3l-4.3 4.3l-4.3-4.3zM671.7 599.4l4.3 4.3l-4.3 4.3l-4.3-4.3zM568.0 614.4l4.3 4.3l-4.3 4.3l-4.3-4.3zM591.8 622.8l4.3 4.3l-4.3 4.3l-4.3-4.3zM662.7 618.4l4.3 4.3l-4.3 4.3l-4.3-4.3zM568.8 592.5l4.3 4.3l-4.3 4.3l-4.3-4.3zM657.8 620.5l4.3 4.3l-4.3 4.3l-4.3-4.3zM636.1 571.5l4.3 4.3l-4.3 4.3l-4.3-4.3zM577.5 619.9l4.3 4.3l-4.3 4.3l-4.3-4.3zM594.4 625.8l4.3 4.3l-4.3 4.3l-4.3-4.3zM568.6 612.4l4.3 4.3l-4.3 4.3l-4.3-4.3zM571.1 585.3l4.3 4.3l-4.3 4.3l-4.3-4.3zM655.4 582.1l4.3 4.3l-4.3 4.3l-4.3-4.3zM657.2 613.8l4.3 4.3l-4.3 4.3l-4.3-4.3zM647.0 624.5l4.3 4.3l-4.3 4.3l-4.3-4.3zM635.3 576.3l4.3 4.3l-4.3 4.3l-4.3-4.3zM565.7 586.0l4.3 4.3l-4.3 4.3l-4.3-4.3zM607.4 628.4l4.3 4.3l-4.3 4.3l-4.3-4.3zM606.2 626.2l4.3 4.3l-4.3 4.3l-4.3-4.3zM620.5 622.7l4.3 4.3l-4.3 4.3l-4.3-4.3zM582.7 622.3l4.3 4.3l-4.3 4.3l-4.3-4.3zM621.0 574.3l4.3 4.3l-4.3 4.3l-4.3-4.3zM588.3 575.0l4.3 4.3l-4.3 4.3l-4.3-4.3zM636.1 621.2l4.3 4.3l-4.3 4.3l-4.3-4.3zM651.4 618.1l4.3 4.3l-4.3 4.3l-4.3-4.3zM661.8 578.2l4.3 4.3l-4.3 4.3l-4.3-4.3zM619.7 572.9l4.3 4.3l-4.3 4.3l-4.3-4.3zM643.7 572.1l4.3 4.3l-4.3 4.3l-4.3-4.3zM655.9 618.4l4.3 4.3l-4.3 4.3l-4.3-4.3zM608.1 624.2l4.3 4.3l-4.3 4.3l-4.3-4.3zM610.0 623.2l4.3 4.3l-4.3 4.3l-4.3-4.3zM677.3 596.2l4.3 4.3l-4.3 4.3l-4.3-4.3zM600.5 571.4l4.3 4.3l-4.3 4.3l-4.3-4.3zM567.0 593.3l4.3 4.3l-4.3 4.3l-4.3-4.3zM569.7 607.4l4.3 4.3l-4.3 4.3l-4.3-4.3zM664.2 587.0l4.3 4.3l-4.3 4.3l-4.3-4.3zM633.7 577.7l4.3 4.3l-4.3 4.3l-4.3-4.3zM571.5 582.9l4.3 4.3l-4.3 4.3l-4.3-4.3zM626.5 572.4l4.3 4.3l-4.3 4.3l-4.3-4.3zM638.3 571.8l4.3 4.3l-4.3 4.3l-4.3-4.3zM602.9 627.7l4.3 4.3l-4.3 4.3l-4.3-4.3zM627.8 622.2l4.3 4.3l-4.3 4.3l-4.3-4.3zM568.4 597.3l4.3 4.3l-4.3 4.3l-4.3-4.3zM602.3 624.1l4.3 4.3l-4.3 4.3l-4.3-4.3zM626.0 576.0l4.3 4.3l-4.3 4.3l-4.3-4.3zM573.5 582.8l4.3 4.3l-4.3 4.3l-4.3-4.3zM620.9 622.7l4.3 4.3l-4.3 4.3l-4.3-4.3zM596.5 569.0l4.3 4.3l-4.3 4.3l-4.3-4.3zM643.8 577.1l4.3 4.3l-4.3 4.3l-4.3-4.3zM653.1 620.4l4.3 4.3l-4.3 4.3l-4.3-4.3zM620.3 573.5l4.3 4.3l-4.3 4.3l-4.3-4.3zM572.4 580.0l4.3 4.3l-4.3 4.3l-4.3-4.3zM672.1 594.8l4.3 4.3l-4.3 4.3l-4.3-4.3zM573.6 602.6l4.3 4.3l-4.3 4.3l-4.3-4.3zM638.7 572.9l4.3 4.3l-4.3 4.3l-4.3-4.3zM568.8 606.1l4.3 4.3l-4.3 4.3l-4.3-4.3zM642.5 576.5l4.3 4.3l-4.3 4.3l-4.3-4.3zM606.4 567.7l4.3 4.3l-4.3 4.3l-4.3-4.3zM672.0 584.5l4.3 4.3l-4.3 4.3l-4.3-4.3zM604.3 621.7l4.3 4.3l-4.3 4.3l-4.3-4.3zM677.2 596.4l4.3 4.3l-4.3 4.3l-4.3-4.3zM595.8 569.6l4.3 4.3l-4.3 4.3l-4.3-4.3zM612.4 571.0l4.3 4.3l-4.3 4.3l-4.3-4.3zM573.5 580.0l4.3 4.3l-4.3 4.3l-4.3-4.3zM617.8 621.4l4.3 4.3l-4.3 4.3l-4.3-4.3zM671.7 610.7l4.3 4.3l-4.3 4.3l-4.3-4.3zM666.8 584.2l4.3 4.3l-4.3 4.3l-4.3-4.3zM642.0 624.5l4.3 4.3l-4.3 4.3l-4.3-4.3zM648.5 619.8l4.3 4.3l-4.3 4.3l-4.3-4.3zM662.9 577.7l4.3 4.3l-4.3 4.3l-4.3-4.3zM573.1 578.0l4.3 4.3l-4.3 4.3l-4.3-4.3zM569.7 592.3l4.3 4.3l-4.3 4.3l-4.3-4.3zM669.2 592.1l4.3 4.3l-4.3 4.3l-4.3-4.3zM636.7 624.2l4.3 4.3l-4.3 4.3l-4.3-4.3zM572.7 596.6l4.3 4.3l-4.3 4.3l-4.3-4.3zM678.3 603.7l4.3 4.3l-4.3 4.3l-4.3-4.3zM617.1 572.6l4.3 4.3l-4.3 4.3l-4.3-4.3zM598.4 622.6l4.3 4.3l-4.3 4.3l-4.3-4.3zM670.3 610.8l4.3 4.3l-4.3 4.3l-4.3-4.3zM623.8 569.7l4.3 4.3l-4.3 4.3l-4.3-4.3zM672.4 597.2l4.3 4.3l-4.3 4.3l-4.3-4.3zM651.2 615.8l4.3 4.3l-4.3 4.3l-4.3-4.3zM598.0 577.2l4.3 4.3l-4.3 4.3l-4.3-4.3zM611.1 575.0l4.3 4.3l-4.3 4.3l-4.3-4.3zM634.3 621.2l4.3 4.3l-4.3 4.3l-4.3-4.3zM610.9 576.4l4.3 4.3l-4.3 4.3l-4.3-4.3zM655.2 619.4l4.3 4.3l-4.3 4.3l-4.3-4.3zM574.1 602.8l4.3 4.3l-4.3 4.3l-4.3-4.3zM587.7 625.1l4.3 4.3l-4.3 4.3l-4.3-4.3zM580.0 624.1l4.3 4.3l-4.3 4.3l-4.3-4.3zM574.1 617.7l4.3 4.3l-4.3 4.3l-4.3-4.3zM567.2 601.9l4.3 4.3l-4.3 4.3l-4.3-4.3zM622.5 625.1l4.3 4.3l-4.3 4.3l-4.3-4.3zM569.4 603.7l4.3 4.3l-4.3 4.3l-4.3-4.3zM564.8 587.5l4.3 4.3l-4.3 4.3l-4.3-4.3zM589.5 621.3l4.3 4.3l-4.3 4.3l-4.3-4.3zM677.0 599.8l4.3 4.3l-4.3 4.3l-4.3-4.3zM567.5 605.0l4.3 4.3l-4.3 4.3l-4.3-4.3zM587.1 574.2l4.3 4.3l-4.3 4.3l-4.3-4.3zM674.6 610.5l4.3 4.3l-4.3 4.3l-4.3-4.3zM569.2 584.5l4.3 4.3l-4.3 4.3l-4.3-4.3zM571.3 617.2l4.3 4.3l-4.3 4.3l-4.3-4.3zM656.7 577.3l4.3 4.3l-4.3 4.3l-4.3-4.3zM572.8 594.7l4.3 4.3l-4.3 4.3l-4.3-4.3zM579.2 581.4l4.3 4.3l-4.3 4.3l-4.3-4.3zM674.8 604.3l4.3 4.3l-4.3 4.3l-4.3-4.3zM636.6 576.3l4.3 4.3l-4.3 4.3l-4.3-4.3zM669.9 587.9l4.3 4.3l-4.3 4.3l-4.3-4.3zM568.5 583.8l4.3 4.3l-4.3 4.3l-4.3-4.3zM571.5 619.0l4.3 4.3l-4.3 4.3l-4.3-4.3zM621.6 577.3l4.3 4.3l-4.3 4.3l-4.3-4.3zM610.5 553.8l4.3 4.3l-4.3 4.3l-4.3-4.3zM589.4 556.1l4.3 4.3l-4.3 4.3l-4.3-4.3zM610.5 563.9l4.3 4.3l-4.3 4.3l-4.3-4.3zM612.0 564.4l4.3 4.3l-4.3 4.3l-4.3-4.3zM633.0 556.9l4.3 4.3l-4.3 4.3l-4.3-4.3zM646.5 562.5l4.3 4.3l-4.3 4.3l-4.3-4.3zM635.2 557.2l4.3 4.3l-4.3 4.3l-4.3-4.3zM584.5 568.8l4.3 4.3l-4.3 4.3l-4.3-4.3zM598.7 562.3l4.3 4.3l-4.3 4.3l-4.3-4.3zM655.9 564.6l4.3 4.3l-4.3 4.3l-4.3-4.3zM618.7 562.6l4.3 4.3l-4.3 4.3l-4.3-4.3zM646.6 565.5l4.3 4.3l-4.3 4.3l-4.3-4.3zM607.1 556.8l4.3 4.3l-4.3 4.3l-4.3-4.3zM647.1 562.9l4.3 4.3l-4.3 4.3l-4.3-4.3zM602.4 556.1l4.3 4.3l-4.3 4.3l-4.3-4.3zM649.4 569.8l4.3 4.3l-4.3 4.3l-4.3-4.3zM618.8 564.2l4.3 4.3l-4.3 4.3l-4.3-4.3zM622.0 562.6l4.3 4.3l-4.3 4.3l-4.3-4.3zM611.3 553.0l4.3 4.3l-4.3 4.3l-4.3-4.3zM610.4 559.6l4.3 4.3l-4.3 4.3l-4.3-4.3zM599.0 561.3l4.3 4.3l-4.3 4.3l-4.3-4.3zM625.8 553.6l4.3 4.3l-4.3 4.3l-4.3-4.3zM583.6 567.6l4.3 4.3l-4.3 4.3l-4.3-4.3zM606.4 556.7l4.3 4.3l-4.3 4.3l-4.3-4.3zM584.9 568.2l4.3 4.3l-4.3 4.3l-4.3-4.3zM622.6 561.3l4.3 4.3l-4.3 4.3l-4.3-4.3zM595.0 561.3l4.3 4.3l-4.3 4.3l-4.3-4.3zM621.9 552.5l4.3 4.3l-4.3 4.3l-4.3-4.3zM590.8 557.0l4.3 4.3l-4.3 4.3l-4.3-4.3zM606.9 565.2l4.3 4.3l-4.3 4.3l-4.3-4.3zM594.6 562.3l4.3 4.3l-4.3 4.3l-4.3-4.3zM618.1 555.5l4.3 4.3l-4.3 4.3l-4.3-4.3zM641.8 560.7l4.3 4.3l-4.3 4.3l-4.3-4.3zM606.1 556.7l4.3 4.3l-4.3 4.3l-4.3-4.3zM667.9 570.3l4.3 4.3l-4.3 4.3l-4.3-4.3zM588.0 567.3l4.3 4.3l-4.3 4.3l-4.3-4.3zM631.0 565.0l4.3 4.3l-4.3 4.3l-4.3-4.3zM629.5 554.2l4.3 4.3l-4.3 4.3l-4.3-4.3z" fill="#000"/><path d="M670.4 571.5l4.3 4.3l-4.3 4.3l-4.3-4.3zM676.7 566.7l4.3 4.3l-4.3 4.3l-4.3-4.3zM675.2 582.1l4.3 4.3l-4.3 4.3l-4.3-4.3zM680.5 588.8l4.3 4.3l-4.3 4.3l-4.3-4.3zM682.0 593.7l4.3 4.3l-4.3 4.3l-4.3-4.3zM686.8 602.3l4.3 4.3l-4.3 4.3l-4.3-4.3zM693.5 607.6l4.3 4.3l-4.3 4.3l-4.3-4.3zM686.8 611.0l4.3 4.3l-4.3 4.3l-4.3-4.3zM687.8 616.7l4.3 4.3l-4.3 4.3l-4.3-4.3zM679.1 617.7l4.3 4.3l-4.3 4.3l-4.3-4.3zM676.2 627.4l4.3 4.3l-4.3 4.3l-4.3-4.3zM682.0 629.3l4.3 4.3l-4.3 4.3l-4.3-4.3zM699.8 618.7l4.3 4.3l-4.3 4.3l-4.3-4.3zM697.9 624.5l4.3 4.3l-4.3 4.3l-4.3-4.3zM657.9 627.4l4.3 4.3l-4.3 4.3l-4.3-4.3zM584.6 494.4l4.3 4.3l-4.3 4.3l-4.3-4.3zM582.5 509.4l4.3 4.3l-4.3 4.3l-4.3-4.3zM579.8 513.5l4.3 4.3l-4.3 4.3l-4.3-4.3zM620.0 521.7l4.3 4.3l-4.3 4.3l-4.3-4.3zM583.1 532.6l4.3 4.3l-4.3 4.3l-4.3-4.3zM601.9 530.7l4.3 4.3l-4.3 4.3l-4.3-4.3zM606.2 536.3l4.3 4.3l-4.3 4.3l-4.3-4.3zM600.6 538.8l4.3 4.3l-4.3 4.3l-4.3-4.3zM578.5 543.8l4.3 4.3l-4.3 4.3l-4.3-4.3zM614.0 551.0l4.3 4.3l-4.3 4.3l-4.3-4.3zM627.5 544.7l4.3 4.3l-4.3 4.3l-4.3-4.3zM635.0 546.3l4.3 4.3l-4.3 4.3l-4.3-4.3zM568.8 557.2l4.3 4.3l-4.3 4.3l-4.3-4.3zM587.2 554.5l4.3 4.3l-4.3 4.3l-4.3-4.3zM597.5 550.1l4.3 4.3l-4.3 4.3l-4.3-4.3zM558.8 567.0l4.3 4.3l-4.3 4.3l-4.3-4.3zM567.5 567.0l4.3 4.3l-4.3 4.3l-4.3-4.3zM573.8 569.5l4.3 4.3l-4.3 4.3l-4.3-4.3zM626.2 553.2l4.3 4.3l-4.3 4.3l-4.3-4.3zM631.2 556.3l4.3 4.3l-4.3 4.3l-4.3-4.3zM679.0 498.2l4.3 4.3l-4.3 4.3l-4.3-4.3zM676.5 523.8l4.3 4.3l-4.3 4.3l-4.3-4.3zM677.8 542.6l4.3 4.3l-4.3 4.3l-4.3-4.3zM665.6 550.1l4.3 4.3l-4.3 4.3l-4.3-4.3zM643.5 540.1l4.3 4.3l-4.3 4.3l-4.3-4.3zM649.8 543.8l4.3 4.3l-4.3 4.3l-4.3-4.3zM628.1 545.1l4.3 4.3l-4.3 4.3l-4.3-4.3zM636.2 546.3l4.3 4.3l-4.3 4.3l-4.3-4.3zM640.6 550.1l4.3 4.3l-4.3 4.3l-4.3-4.3zM657.5 559.5l4.3 4.3l-4.3 4.3l-4.3-4.3zM646.9 557.0l4.3 4.3l-4.3 4.3l-4.3-4.3zM678.8 559.5l4.3 4.3l-4.3 4.3l-4.3-4.3zM676.2 565.1l4.3 4.3l-4.3 4.3l-4.3-4.3zM713.1 563.2l4.3 4.3l-4.3 4.3l-4.3-4.3zM691.2 572.6l4.3 4.3l-4.3 4.3l-4.3-4.3zM670.6 570.7l4.3 4.3l-4.3 4.3l-4.3-4.3zM626.9 553.2l4.3 4.3l-4.3 4.3l-4.3-4.3zM629.4 557.0l4.3 4.3l-4.3 4.3l-4.3-4.3zM621.2 521.3l4.3 4.3l-4.3 4.3l-4.3-4.3zM547.8 591.3l4.3 4.3l-4.3 4.3l-4.3-4.3zM551.5 602.6l4.3 4.3l-4.3 4.3l-4.3-4.3zM560.0 598.8l4.3 4.3l-4.3 4.3l-4.3-4.3zM551.9 613.8l4.3 4.3l-4.3 4.3l-4.3-4.3zM554.4 617.6l4.3 4.3l-4.3 4.3l-4.3-4.3zM560.6 610.1l4.3 4.3l-4.3 4.3l-4.3-4.3zM551.9 628.8l4.3 4.3l-4.3 4.3l-4.3-4.3zM560.0 637.0l4.3 4.3l-4.3 4.3l-4.3-4.3zM561.9 629.5l4.3 4.3l-4.3 4.3l-4.3-4.3zM570.0 633.2l4.3 4.3l-4.3 4.3l-4.3-4.3zM578.1 635.1l4.3 4.3l-4.3 4.3l-4.3-4.3zM625.0 644.5l4.3 4.3l-4.3 4.3l-4.3-4.3zM558.8 567.6l4.3 4.3l-4.3 4.3l-4.3-4.3zM562.5 582.0l4.3 4.3l-4.3 4.3l-4.3-4.3zM563.8 575.1l4.3 4.3l-4.3 4.3l-4.3-4.3zM691.2 573.2l4.3 4.3l-4.3 4.3l-4.3-4.3zM692.5 577.6l4.3 4.3l-4.3 4.3l-4.3-4.3zM716.2 580.7l4.3 4.3l-4.3 4.3l-4.3-4.3zM714.4 595.1l4.3 4.3l-4.3 4.3l-4.3-4.3zM710.6 604.5l4.3 4.3l-4.3 4.3l-4.3-4.3zM693.8 607.6l4.3 4.3l-4.3 4.3l-4.3-4.3zM700.0 618.2l4.3 4.3l-4.3 4.3l-4.3-4.3zM709.4 622.6l4.3 4.3l-4.3 4.3l-4.3-4.3zM698.1 624.5l4.3 4.3l-4.3 4.3l-4.3-4.3zM687.5 613.2l4.3 4.3l-4.3 4.3l-4.3-4.3zM686.2 603.2l4.3 4.3l-4.3 4.3l-4.3-4.3zM681.9 590.7l4.3 4.3l-4.3 4.3l-4.3-4.3zM675.6 582.0l4.3 4.3l-4.3 4.3l-4.3-4.3zM670.6 571.3l4.3 4.3l-4.3 4.3l-4.3-4.3zM676.2 566.3l4.3 4.3l-4.3 4.3l-4.3-4.3zM680.0 620.7l4.3 4.3l-4.3 4.3l-4.3-4.3zM675.0 627.0l4.3 4.3l-4.3 4.3l-4.3-4.3zM681.9 628.8l4.3 4.3l-4.3 4.3l-4.3-4.3zM645.0 642.0l4.3 4.3l-4.3 4.3l-4.3-4.3zM625.6 635.1l4.3 4.3l-4.3 4.3l-4.3-4.3zM657.5 628.2l4.3 4.3l-4.3 4.3l-4.3-4.3zM485.4 553.6l4.3 4.3l-4.3 4.3l-4.3-4.3zM503.7 584.3l4.3 4.3l-4.3 4.3l-4.3-4.3zM491.6 623.7l4.3 4.3l-4.3 4.3l-4.3-4.3zM547.8 591.4l4.3 4.3l-4.3 4.3l-4.3-4.3zM551.5 603.1l4.3 4.3l-4.3 4.3l-4.3-4.3zM551.5 614.1l4.3 4.3l-4.3 4.3l-4.3-4.3zM553.5 618.2l4.3 4.3l-4.3 4.3l-4.3-4.3zM552.2 629.2l4.3 4.3l-4.3 4.3l-4.3-4.3zM557.9 567.1l4.3 4.3l-4.3 4.3l-4.3-4.3zM713.3 563.2l4.3 4.3l-4.3 4.3l-4.3-4.3zM691.3 572.8l4.3 4.3l-4.3 4.3l-4.3-4.3zM692.7 577.2l4.3 4.3l-4.3 4.3l-4.3-4.3zM717.1 580.4l4.3 4.3l-4.3 4.3l-4.3-4.3zM714.7 595.1l4.3 4.3l-4.3 4.3l-4.3-4.3zM711.0 604.2l4.3 4.3l-4.3 4.3l-4.3-4.3zM693.8 607.2l4.3 4.3l-4.3 4.3l-4.3-4.3zM739.1 625.8l4.3 4.3l-4.3 4.3l-4.3-4.3zM709.6 622.4l4.3 4.3l-4.3 4.3l-4.3-4.3zM700.0 618.2l4.3 4.3l-4.3 4.3l-4.3-4.3zM697.9 625.1l4.3 4.3l-4.3 4.3l-4.3-4.3zM686.9 600.3l4.3 4.3l-4.3 4.3l-4.3-4.3zM686.9 612.7l4.3 4.3l-4.3 4.3l-4.3-4.3zM682.1 590.7l4.3 4.3l-4.3 4.3l-4.3-4.3zM681.4 559.8l4.3 4.3l-4.3 4.3l-4.3-4.3zM680.7 542.6l4.3 4.3l-4.3 4.3l-4.3-4.3zM682.1 626.5l4.3 4.3l-4.3 4.3l-4.3-4.3zM591.9 666.3l4.3 4.3l-4.3 4.3l-4.3-4.3zM625.0 644.7l4.3 4.3l-4.3 4.3l-4.3-4.3zM644.8 642.0l4.3 4.3l-4.3 4.3l-4.3-4.3zM578.8 635.1l4.3 4.3l-4.3 4.3l-4.3-4.3zM570.6 633.2l4.3 4.3l-4.3 4.3l-4.3-4.3zM561.2 636.3l4.3 4.3l-4.3 4.3l-4.3-4.3zM600.0 637.0l4.3 4.3l-4.3 4.3l-4.3-4.3zM612.5 637.6l4.3 4.3l-4.3 4.3l-4.3-4.3zM626.2 636.3l4.3 4.3l-4.3 4.3l-4.3-4.3zM640.0 633.8l4.3 4.3l-4.3 4.3l-4.3-4.3zM583.2 532.5l4.3 4.3l-4.3 4.3l-4.3-4.3zM602.0 531.0l4.3 4.3l-4.3 4.3l-4.3-4.3zM605.7 536.2l4.3 4.3l-4.3 4.3l-4.3-4.3zM600.5 539.2l4.3 4.3l-4.3 4.3l-4.3-4.3zM578.8 543.7l4.3 4.3l-4.3 4.3l-4.3-4.3zM643.2 540.0l4.3 4.3l-4.3 4.3l-4.3-4.3zM649.7 543.7l4.3 4.3l-4.3 4.3l-4.3-4.3zM665.7 549.7l4.3 4.3l-4.3 4.3l-4.3-4.3zM677.0 542.2l4.3 4.3l-4.3 4.3l-4.3-4.3zM628.2 544.5l4.3 4.3l-4.3 4.3l-4.3-4.3zM636.5 546.0l4.3 4.3l-4.3 4.3l-4.3-4.3zM641.7 549.7l4.3 4.3l-4.3 4.3l-4.3-4.3zM614.0 550.5l4.3 4.3l-4.3 4.3l-4.3-4.3zM597.5 549.7l4.3 4.3l-4.3 4.3l-4.3-4.3zM587.0 554.2l4.3 4.3l-4.3 4.3l-4.3-4.3zM569.0 557.2l4.3 4.3l-4.3 4.3l-4.3-4.3zM626.0 553.5l4.3 4.3l-4.3 4.3l-4.3-4.3zM630.5 556.5l4.3 4.3l-4.3 4.3l-4.3-4.3zM647.0 557.2l4.3 4.3l-4.3 4.3l-4.3-4.3zM656.7 559.5l4.3 4.3l-4.3 4.3l-4.3-4.3zM567.5 566.2l4.3 4.3l-4.3 4.3l-4.3-4.3zM574.2 569.2l4.3 4.3l-4.3 4.3l-4.3-4.3zM677.0 561.7l4.3 4.3l-4.3 4.3l-4.3-4.3zM671.0 570.7l4.3 4.3l-4.3 4.3l-4.3-4.3z" fill="#000"/><path d="M461.0 440.0V674.8H767.0" fill="none" stroke="#444" stroke-width="1.9"/><path d="M457.0 674.8H461.0M457.0 616.1H461.0M457.0 557.4H461.0M457.0 498.7H461.0M457.0 440.0H461.0M461.0 674.8v4M563.0 674.8v4M665.0 674.8v4M767.0 674.8v4" fill="none" stroke="#444" stroke-width="1.9"/><text transform="translate(449.8 679.4) scale(1.0 1)" text-anchor="end" class="tk">0.0</text><text transform="translate(449.8 620.7) scale(1.0 1)" text-anchor="end" class="tk">0.2</text><text transform="translate(449.8 562.0) scale(1.0 1)" text-anchor="end" class="tk">0.4</text><text transform="translate(449.8 503.3) scale(1.0 1)" text-anchor="end" class="tk">0.6</text><text transform="translate(449.8 444.6) scale(1.0 1)" text-anchor="end" class="tk">0.8</text><text transform="translate(461.0 697.8) scale(1.0 1)" text-anchor="middle" class="tk">0.0</text><text transform="translate(563.0 697.8) scale(1.0 1)" text-anchor="middle" class="tk">0.5</text><text transform="translate(665.0 697.8) scale(1.0 1)" text-anchor="middle" class="tk">1.0</text><text transform="translate(767.0 697.8) scale(1.0 1)" text-anchor="middle" class="tk">1.5</text><line x1="485.3" y1="610.4" x2="738.0" y2="602.2" stroke="#000" stroke-width="2.6"/><text transform="translate(594.7 403.6) scale(1.0 1)" text-anchor="middle" class="ti">Free cholesterol</text><text transform="translate(604.0 428.4) scale(0.97 1)" text-anchor="middle" class="eq">y = 0.0225x + 0.2168</text><text transform="translate(603.7 445.6) scale(0.97 1)" text-anchor="middle" class="eq">R<tspan dy="-5.4" font-size="8">2</tspan><tspan dy="5.4"> = 0.0023, p = 0.077</tspan></text><text transform="translate(423 559) rotate(-90) scale(1 1.075)" text-anchor="middle" class="yl">Cord serum</text><text transform="translate(612.9 719.8) scale(1.0 1)" text-anchor="middle" class="xl">Maternal serum</text></g>
</svg></body></html>
